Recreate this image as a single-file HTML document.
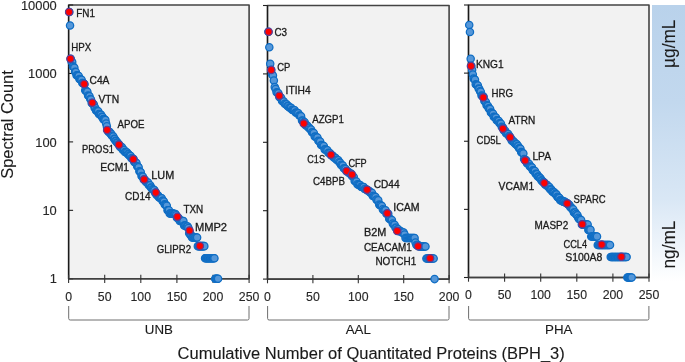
<!DOCTYPE html><html><head><meta charset="utf-8"><style>html,body{margin:0;padding:0;background:#fff;overflow:hidden}svg{display:block;will-change:transform}</style></head><body>
<svg width="685" height="362" viewBox="0 0 685 362" font-family="'Liberation Sans', sans-serif"><style>text{stroke:#1a1a1a;stroke-width:0.12;paint-order:stroke}text.l{stroke-width:0.3}</style>
<defs><linearGradient id="gb" x1="0" y1="0" x2="0" y2="1"><stop offset="0" stop-color="#b9d2eb"/><stop offset="0.35" stop-color="#c2d8ee"/><stop offset="0.7" stop-color="#d9e7f5"/><stop offset="1" stop-color="#ffffff"/></linearGradient></defs>
<rect x="652" y="5" width="33" height="277" fill="url(#gb)"/>
<text x="0" y="0" transform="translate(674.9,67.9) rotate(-90)" font-size="17.6" fill="#1a1a1a" textLength="48.4" lengthAdjust="spacingAndGlyphs">µg/mL</text>
<text x="0" y="0" transform="translate(674.9,268.4) rotate(-90)" font-size="17.6" fill="#1a1a1a" textLength="47.6" lengthAdjust="spacingAndGlyphs">ng/mL</text>
<rect x="68.6" y="5.0" width="180.50" height="273.80" fill="#f2f2f2" stroke="#444444" stroke-width="1.6" stroke-linejoin="round"/>
<line x1="68.6" y1="5.00" x2="73.1" y2="5.00" stroke="#222" stroke-width="1.1"/>
<text x="56.8" y="9.60" font-size="12.9" text-anchor="end" fill="#262626">10000</text>
<line x1="68.6" y1="73.45" x2="73.1" y2="73.45" stroke="#222" stroke-width="1.1"/>
<text x="56.8" y="78.05" font-size="12.9" text-anchor="end" fill="#262626">1000</text>
<line x1="68.6" y1="141.90" x2="73.1" y2="141.90" stroke="#222" stroke-width="1.1"/>
<text x="56.8" y="146.50" font-size="12.9" text-anchor="end" fill="#262626">100</text>
<line x1="68.6" y1="210.35" x2="73.1" y2="210.35" stroke="#222" stroke-width="1.1"/>
<text x="56.8" y="214.95" font-size="12.9" text-anchor="end" fill="#262626">10</text>
<line x1="68.6" y1="278.80" x2="73.1" y2="278.80" stroke="#222" stroke-width="1.1"/>
<text x="56.8" y="283.40" font-size="12.9" text-anchor="end" fill="#262626">1</text>
<line x1="68.6" y1="5.0" x2="68.6" y2="278.8" stroke="#1a1a1a" stroke-width="1.2"/>
<line x1="68.6" y1="278.8" x2="249.1" y2="278.8" stroke="#404040" stroke-width="1.3"/>
<line x1="68.60" y1="274.8" x2="68.60" y2="283.0" stroke="#333" stroke-width="1.1"/>
<text x="68.60" y="300.50" font-size="12.3" text-anchor="middle" fill="#262626">0</text>
<line x1="104.70" y1="274.8" x2="104.70" y2="283.0" stroke="#333" stroke-width="1.1"/>
<text x="104.70" y="300.50" font-size="12.3" text-anchor="middle" fill="#262626">50</text>
<line x1="140.80" y1="274.8" x2="140.80" y2="283.0" stroke="#333" stroke-width="1.1"/>
<text x="140.80" y="300.50" font-size="12.3" text-anchor="middle" fill="#262626">100</text>
<line x1="176.90" y1="274.8" x2="176.90" y2="283.0" stroke="#333" stroke-width="1.1"/>
<text x="176.90" y="300.50" font-size="12.3" text-anchor="middle" fill="#262626">150</text>
<line x1="213.00" y1="274.8" x2="213.00" y2="283.0" stroke="#333" stroke-width="1.1"/>
<text x="213.00" y="300.50" font-size="12.3" text-anchor="middle" fill="#262626">200</text>
<line x1="249.10" y1="274.8" x2="249.10" y2="283.0" stroke="#333" stroke-width="1.1"/>
<text x="249.10" y="300.50" font-size="12.3" text-anchor="middle" fill="#262626">250</text>
<path d="M68.69999999999999,306 L68.69999999999999,318.5 Q68.69999999999999,320 70.19999999999999,320 L247.5,320 Q249.0,320 249.0,318.5 L249.0,306" fill="none" stroke="#6e6e6e" stroke-width="1"/>
<text x="158.85" y="333.6" font-size="13.3" text-anchor="middle" fill="#1a1a1a">UNB</text>
<circle cx="69.32" cy="12.00" r="3.65" fill="#5597d9" stroke="#0f6dc4" stroke-width="1.25"/>
<circle cx="70.04" cy="25.50" r="3.65" fill="#5597d9" stroke="#0f6dc4" stroke-width="1.25"/>
<circle cx="70.77" cy="58.80" r="3.65" fill="#5597d9" stroke="#0f6dc4" stroke-width="1.25"/>
<circle cx="71.49" cy="61.49" r="3.65" fill="#5597d9" stroke="#0f6dc4" stroke-width="1.25"/>
<circle cx="72.21" cy="62.05" r="3.65" fill="#5597d9" stroke="#0f6dc4" stroke-width="1.25"/>
<circle cx="72.93" cy="66.29" r="3.65" fill="#5597d9" stroke="#0f6dc4" stroke-width="1.25"/>
<circle cx="73.65" cy="67.02" r="3.65" fill="#5597d9" stroke="#0f6dc4" stroke-width="1.25"/>
<circle cx="74.38" cy="67.79" r="3.65" fill="#5597d9" stroke="#0f6dc4" stroke-width="1.25"/>
<circle cx="75.10" cy="71.70" r="3.65" fill="#5597d9" stroke="#0f6dc4" stroke-width="1.25"/>
<circle cx="75.82" cy="72.13" r="3.65" fill="#5597d9" stroke="#0f6dc4" stroke-width="1.25"/>
<circle cx="76.54" cy="75.20" r="3.65" fill="#5597d9" stroke="#0f6dc4" stroke-width="1.25"/>
<circle cx="77.26" cy="75.57" r="3.65" fill="#5597d9" stroke="#0f6dc4" stroke-width="1.25"/>
<circle cx="77.99" cy="75.83" r="3.65" fill="#5597d9" stroke="#0f6dc4" stroke-width="1.25"/>
<circle cx="78.71" cy="76.10" r="3.65" fill="#5597d9" stroke="#0f6dc4" stroke-width="1.25"/>
<circle cx="79.43" cy="78.90" r="3.65" fill="#5597d9" stroke="#0f6dc4" stroke-width="1.25"/>
<circle cx="80.15" cy="79.17" r="3.65" fill="#5597d9" stroke="#0f6dc4" stroke-width="1.25"/>
<circle cx="80.87" cy="79.43" r="3.65" fill="#5597d9" stroke="#0f6dc4" stroke-width="1.25"/>
<circle cx="81.60" cy="79.72" r="3.65" fill="#5597d9" stroke="#0f6dc4" stroke-width="1.25"/>
<circle cx="82.32" cy="82.93" r="3.65" fill="#5597d9" stroke="#0f6dc4" stroke-width="1.25"/>
<circle cx="83.04" cy="83.23" r="3.65" fill="#5597d9" stroke="#0f6dc4" stroke-width="1.25"/>
<circle cx="83.76" cy="83.52" r="3.65" fill="#5597d9" stroke="#0f6dc4" stroke-width="1.25"/>
<circle cx="84.48" cy="84.17" r="3.65" fill="#5597d9" stroke="#0f6dc4" stroke-width="1.25"/>
<circle cx="85.21" cy="90.32" r="3.65" fill="#5597d9" stroke="#0f6dc4" stroke-width="1.25"/>
<circle cx="85.93" cy="90.94" r="3.65" fill="#5597d9" stroke="#0f6dc4" stroke-width="1.25"/>
<circle cx="86.65" cy="91.35" r="3.65" fill="#5597d9" stroke="#0f6dc4" stroke-width="1.25"/>
<circle cx="87.37" cy="91.75" r="3.65" fill="#5597d9" stroke="#0f6dc4" stroke-width="1.25"/>
<circle cx="88.09" cy="95.55" r="3.65" fill="#5597d9" stroke="#0f6dc4" stroke-width="1.25"/>
<circle cx="88.82" cy="95.96" r="3.65" fill="#5597d9" stroke="#0f6dc4" stroke-width="1.25"/>
<circle cx="89.54" cy="96.36" r="3.65" fill="#5597d9" stroke="#0f6dc4" stroke-width="1.25"/>
<circle cx="90.26" cy="99.10" r="3.65" fill="#5597d9" stroke="#0f6dc4" stroke-width="1.25"/>
<circle cx="90.98" cy="99.50" r="3.65" fill="#5597d9" stroke="#0f6dc4" stroke-width="1.25"/>
<circle cx="91.70" cy="103.04" r="3.65" fill="#5597d9" stroke="#0f6dc4" stroke-width="1.25"/>
<circle cx="92.43" cy="103.47" r="3.65" fill="#5597d9" stroke="#0f6dc4" stroke-width="1.25"/>
<circle cx="93.15" cy="104.09" r="3.65" fill="#5597d9" stroke="#0f6dc4" stroke-width="1.25"/>
<circle cx="93.87" cy="104.46" r="3.65" fill="#5597d9" stroke="#0f6dc4" stroke-width="1.25"/>
<circle cx="94.59" cy="107.65" r="3.65" fill="#5597d9" stroke="#0f6dc4" stroke-width="1.25"/>
<circle cx="95.31" cy="108.00" r="3.65" fill="#5597d9" stroke="#0f6dc4" stroke-width="1.25"/>
<circle cx="96.04" cy="110.52" r="3.65" fill="#5597d9" stroke="#0f6dc4" stroke-width="1.25"/>
<circle cx="96.76" cy="110.81" r="3.65" fill="#5597d9" stroke="#0f6dc4" stroke-width="1.25"/>
<circle cx="97.48" cy="111.06" r="3.65" fill="#5597d9" stroke="#0f6dc4" stroke-width="1.25"/>
<circle cx="98.20" cy="111.31" r="3.65" fill="#5597d9" stroke="#0f6dc4" stroke-width="1.25"/>
<circle cx="98.92" cy="113.93" r="3.65" fill="#5597d9" stroke="#0f6dc4" stroke-width="1.25"/>
<circle cx="99.65" cy="114.18" r="3.65" fill="#5597d9" stroke="#0f6dc4" stroke-width="1.25"/>
<circle cx="100.37" cy="114.44" r="3.65" fill="#5597d9" stroke="#0f6dc4" stroke-width="1.25"/>
<circle cx="101.09" cy="114.69" r="3.65" fill="#5597d9" stroke="#0f6dc4" stroke-width="1.25"/>
<circle cx="101.81" cy="116.70" r="3.65" fill="#5597d9" stroke="#0f6dc4" stroke-width="1.25"/>
<circle cx="102.53" cy="116.95" r="3.65" fill="#5597d9" stroke="#0f6dc4" stroke-width="1.25"/>
<circle cx="103.26" cy="119.12" r="3.65" fill="#5597d9" stroke="#0f6dc4" stroke-width="1.25"/>
<circle cx="103.98" cy="119.37" r="3.65" fill="#5597d9" stroke="#0f6dc4" stroke-width="1.25"/>
<circle cx="104.70" cy="119.62" r="3.65" fill="#5597d9" stroke="#0f6dc4" stroke-width="1.25"/>
<circle cx="105.42" cy="120.13" r="3.65" fill="#5597d9" stroke="#0f6dc4" stroke-width="1.25"/>
<circle cx="106.14" cy="123.46" r="3.65" fill="#5597d9" stroke="#0f6dc4" stroke-width="1.25"/>
<circle cx="106.87" cy="126.38" r="3.65" fill="#5597d9" stroke="#0f6dc4" stroke-width="1.25"/>
<circle cx="107.59" cy="130.31" r="3.65" fill="#5597d9" stroke="#0f6dc4" stroke-width="1.25"/>
<circle cx="108.31" cy="131.61" r="3.65" fill="#5597d9" stroke="#0f6dc4" stroke-width="1.25"/>
<circle cx="109.03" cy="131.84" r="3.65" fill="#5597d9" stroke="#0f6dc4" stroke-width="1.25"/>
<circle cx="109.75" cy="132.07" r="3.65" fill="#5597d9" stroke="#0f6dc4" stroke-width="1.25"/>
<circle cx="110.48" cy="133.65" r="3.65" fill="#5597d9" stroke="#0f6dc4" stroke-width="1.25"/>
<circle cx="111.20" cy="133.88" r="3.65" fill="#5597d9" stroke="#0f6dc4" stroke-width="1.25"/>
<circle cx="111.92" cy="135.71" r="3.65" fill="#5597d9" stroke="#0f6dc4" stroke-width="1.25"/>
<circle cx="112.64" cy="136.05" r="3.65" fill="#5597d9" stroke="#0f6dc4" stroke-width="1.25"/>
<circle cx="113.36" cy="136.40" r="3.65" fill="#5597d9" stroke="#0f6dc4" stroke-width="1.25"/>
<circle cx="114.09" cy="138.77" r="3.65" fill="#5597d9" stroke="#0f6dc4" stroke-width="1.25"/>
<circle cx="114.81" cy="139.12" r="3.65" fill="#5597d9" stroke="#0f6dc4" stroke-width="1.25"/>
<circle cx="115.53" cy="140.82" r="3.65" fill="#5597d9" stroke="#0f6dc4" stroke-width="1.25"/>
<circle cx="116.25" cy="141.08" r="3.65" fill="#5597d9" stroke="#0f6dc4" stroke-width="1.25"/>
<circle cx="116.97" cy="142.56" r="3.65" fill="#5597d9" stroke="#0f6dc4" stroke-width="1.25"/>
<circle cx="117.70" cy="142.82" r="3.65" fill="#5597d9" stroke="#0f6dc4" stroke-width="1.25"/>
<circle cx="118.42" cy="144.30" r="3.65" fill="#5597d9" stroke="#0f6dc4" stroke-width="1.25"/>
<circle cx="119.14" cy="144.56" r="3.65" fill="#5597d9" stroke="#0f6dc4" stroke-width="1.25"/>
<circle cx="119.86" cy="146.61" r="3.65" fill="#5597d9" stroke="#0f6dc4" stroke-width="1.25"/>
<circle cx="120.58" cy="146.86" r="3.65" fill="#5597d9" stroke="#0f6dc4" stroke-width="1.25"/>
<circle cx="121.31" cy="147.12" r="3.65" fill="#5597d9" stroke="#0f6dc4" stroke-width="1.25"/>
<circle cx="122.03" cy="147.37" r="3.65" fill="#5597d9" stroke="#0f6dc4" stroke-width="1.25"/>
<circle cx="122.75" cy="149.66" r="3.65" fill="#5597d9" stroke="#0f6dc4" stroke-width="1.25"/>
<circle cx="123.47" cy="149.92" r="3.65" fill="#5597d9" stroke="#0f6dc4" stroke-width="1.25"/>
<circle cx="124.19" cy="150.11" r="3.65" fill="#5597d9" stroke="#0f6dc4" stroke-width="1.25"/>
<circle cx="124.92" cy="151.91" r="3.65" fill="#5597d9" stroke="#0f6dc4" stroke-width="1.25"/>
<circle cx="125.64" cy="152.10" r="3.65" fill="#5597d9" stroke="#0f6dc4" stroke-width="1.25"/>
<circle cx="126.36" cy="152.29" r="3.65" fill="#5597d9" stroke="#0f6dc4" stroke-width="1.25"/>
<circle cx="127.08" cy="152.48" r="3.65" fill="#5597d9" stroke="#0f6dc4" stroke-width="1.25"/>
<circle cx="127.80" cy="154.00" r="3.65" fill="#5597d9" stroke="#0f6dc4" stroke-width="1.25"/>
<circle cx="128.53" cy="154.19" r="3.65" fill="#5597d9" stroke="#0f6dc4" stroke-width="1.25"/>
<circle cx="129.25" cy="155.59" r="3.65" fill="#5597d9" stroke="#0f6dc4" stroke-width="1.25"/>
<circle cx="129.97" cy="155.83" r="3.65" fill="#5597d9" stroke="#0f6dc4" stroke-width="1.25"/>
<circle cx="130.69" cy="156.06" r="3.65" fill="#5597d9" stroke="#0f6dc4" stroke-width="1.25"/>
<circle cx="131.41" cy="158.22" r="3.65" fill="#5597d9" stroke="#0f6dc4" stroke-width="1.25"/>
<circle cx="132.14" cy="158.45" r="3.65" fill="#5597d9" stroke="#0f6dc4" stroke-width="1.25"/>
<circle cx="132.86" cy="158.69" r="3.65" fill="#5597d9" stroke="#0f6dc4" stroke-width="1.25"/>
<circle cx="133.58" cy="158.96" r="3.65" fill="#5597d9" stroke="#0f6dc4" stroke-width="1.25"/>
<circle cx="134.30" cy="162.02" r="3.65" fill="#5597d9" stroke="#0f6dc4" stroke-width="1.25"/>
<circle cx="135.02" cy="162.34" r="3.65" fill="#5597d9" stroke="#0f6dc4" stroke-width="1.25"/>
<circle cx="135.75" cy="162.65" r="3.65" fill="#5597d9" stroke="#0f6dc4" stroke-width="1.25"/>
<circle cx="136.47" cy="162.97" r="3.65" fill="#5597d9" stroke="#0f6dc4" stroke-width="1.25"/>
<circle cx="137.19" cy="166.29" r="3.65" fill="#5597d9" stroke="#0f6dc4" stroke-width="1.25"/>
<circle cx="137.91" cy="166.77" r="3.65" fill="#5597d9" stroke="#0f6dc4" stroke-width="1.25"/>
<circle cx="138.63" cy="167.24" r="3.65" fill="#5597d9" stroke="#0f6dc4" stroke-width="1.25"/>
<circle cx="139.36" cy="171.22" r="3.65" fill="#5597d9" stroke="#0f6dc4" stroke-width="1.25"/>
<circle cx="140.08" cy="171.79" r="3.65" fill="#5597d9" stroke="#0f6dc4" stroke-width="1.25"/>
<circle cx="140.80" cy="172.36" r="3.65" fill="#5597d9" stroke="#0f6dc4" stroke-width="1.25"/>
<circle cx="141.52" cy="176.10" r="3.65" fill="#5597d9" stroke="#0f6dc4" stroke-width="1.25"/>
<circle cx="142.24" cy="176.43" r="3.65" fill="#5597d9" stroke="#0f6dc4" stroke-width="1.25"/>
<circle cx="142.97" cy="176.76" r="3.65" fill="#5597d9" stroke="#0f6dc4" stroke-width="1.25"/>
<circle cx="143.69" cy="179.44" r="3.65" fill="#5597d9" stroke="#0f6dc4" stroke-width="1.25"/>
<circle cx="144.41" cy="179.75" r="3.65" fill="#5597d9" stroke="#0f6dc4" stroke-width="1.25"/>
<circle cx="145.13" cy="180.08" r="3.65" fill="#5597d9" stroke="#0f6dc4" stroke-width="1.25"/>
<circle cx="145.85" cy="181.82" r="3.65" fill="#5597d9" stroke="#0f6dc4" stroke-width="1.25"/>
<circle cx="146.58" cy="182.16" r="3.65" fill="#5597d9" stroke="#0f6dc4" stroke-width="1.25"/>
<circle cx="147.30" cy="182.51" r="3.65" fill="#5597d9" stroke="#0f6dc4" stroke-width="1.25"/>
<circle cx="148.02" cy="182.51" r="3.65" fill="#5597d9" stroke="#0f6dc4" stroke-width="1.25"/>
<circle cx="148.74" cy="184.91" r="3.65" fill="#5597d9" stroke="#0f6dc4" stroke-width="1.25"/>
<circle cx="149.46" cy="185.29" r="3.65" fill="#5597d9" stroke="#0f6dc4" stroke-width="1.25"/>
<circle cx="150.19" cy="185.29" r="3.65" fill="#5597d9" stroke="#0f6dc4" stroke-width="1.25"/>
<circle cx="150.91" cy="187.40" r="3.65" fill="#5597d9" stroke="#0f6dc4" stroke-width="1.25"/>
<circle cx="151.63" cy="187.81" r="3.65" fill="#5597d9" stroke="#0f6dc4" stroke-width="1.25"/>
<circle cx="152.35" cy="189.32" r="3.65" fill="#5597d9" stroke="#0f6dc4" stroke-width="1.25"/>
<circle cx="153.07" cy="189.76" r="3.65" fill="#5597d9" stroke="#0f6dc4" stroke-width="1.25"/>
<circle cx="153.80" cy="189.76" r="3.65" fill="#5597d9" stroke="#0f6dc4" stroke-width="1.25"/>
<circle cx="154.52" cy="190.21" r="3.65" fill="#5597d9" stroke="#0f6dc4" stroke-width="1.25"/>
<circle cx="155.24" cy="192.88" r="3.65" fill="#5597d9" stroke="#0f6dc4" stroke-width="1.25"/>
<circle cx="155.96" cy="192.88" r="3.65" fill="#5597d9" stroke="#0f6dc4" stroke-width="1.25"/>
<circle cx="156.68" cy="195.00" r="3.65" fill="#5597d9" stroke="#0f6dc4" stroke-width="1.25"/>
<circle cx="157.41" cy="195.00" r="3.65" fill="#5597d9" stroke="#0f6dc4" stroke-width="1.25"/>
<circle cx="158.13" cy="195.54" r="3.65" fill="#5597d9" stroke="#0f6dc4" stroke-width="1.25"/>
<circle cx="158.85" cy="197.27" r="3.65" fill="#5597d9" stroke="#0f6dc4" stroke-width="1.25"/>
<circle cx="159.57" cy="197.85" r="3.65" fill="#5597d9" stroke="#0f6dc4" stroke-width="1.25"/>
<circle cx="160.29" cy="197.85" r="3.65" fill="#5597d9" stroke="#0f6dc4" stroke-width="1.25"/>
<circle cx="161.02" cy="198.30" r="3.65" fill="#5597d9" stroke="#0f6dc4" stroke-width="1.25"/>
<circle cx="161.74" cy="198.30" r="3.65" fill="#5597d9" stroke="#0f6dc4" stroke-width="1.25"/>
<circle cx="162.46" cy="200.86" r="3.65" fill="#5597d9" stroke="#0f6dc4" stroke-width="1.25"/>
<circle cx="163.18" cy="200.86" r="3.65" fill="#5597d9" stroke="#0f6dc4" stroke-width="1.25"/>
<circle cx="163.90" cy="201.52" r="3.65" fill="#5597d9" stroke="#0f6dc4" stroke-width="1.25"/>
<circle cx="164.63" cy="204.25" r="3.65" fill="#5597d9" stroke="#0f6dc4" stroke-width="1.25"/>
<circle cx="165.35" cy="204.97" r="3.65" fill="#5597d9" stroke="#0f6dc4" stroke-width="1.25"/>
<circle cx="166.07" cy="204.97" r="3.65" fill="#5597d9" stroke="#0f6dc4" stroke-width="1.25"/>
<circle cx="166.79" cy="205.74" r="3.65" fill="#5597d9" stroke="#0f6dc4" stroke-width="1.25"/>
<circle cx="167.51" cy="210.35" r="3.65" fill="#5597d9" stroke="#0f6dc4" stroke-width="1.25"/>
<circle cx="168.24" cy="210.35" r="3.65" fill="#5597d9" stroke="#0f6dc4" stroke-width="1.25"/>
<circle cx="168.96" cy="210.35" r="3.65" fill="#5597d9" stroke="#0f6dc4" stroke-width="1.25"/>
<circle cx="169.68" cy="213.48" r="3.65" fill="#5597d9" stroke="#0f6dc4" stroke-width="1.25"/>
<circle cx="170.40" cy="213.48" r="3.65" fill="#5597d9" stroke="#0f6dc4" stroke-width="1.25"/>
<circle cx="171.12" cy="213.48" r="3.65" fill="#5597d9" stroke="#0f6dc4" stroke-width="1.25"/>
<circle cx="171.85" cy="213.48" r="3.65" fill="#5597d9" stroke="#0f6dc4" stroke-width="1.25"/>
<circle cx="172.57" cy="213.48" r="3.65" fill="#5597d9" stroke="#0f6dc4" stroke-width="1.25"/>
<circle cx="173.29" cy="213.48" r="3.65" fill="#5597d9" stroke="#0f6dc4" stroke-width="1.25"/>
<circle cx="174.01" cy="214.09" r="3.65" fill="#5597d9" stroke="#0f6dc4" stroke-width="1.25"/>
<circle cx="174.73" cy="214.09" r="3.65" fill="#5597d9" stroke="#0f6dc4" stroke-width="1.25"/>
<circle cx="175.46" cy="214.09" r="3.65" fill="#5597d9" stroke="#0f6dc4" stroke-width="1.25"/>
<circle cx="176.18" cy="215.15" r="3.65" fill="#5597d9" stroke="#0f6dc4" stroke-width="1.25"/>
<circle cx="176.90" cy="217.68" r="3.65" fill="#5597d9" stroke="#0f6dc4" stroke-width="1.25"/>
<circle cx="177.62" cy="217.68" r="3.65" fill="#5597d9" stroke="#0f6dc4" stroke-width="1.25"/>
<circle cx="178.34" cy="217.68" r="3.65" fill="#5597d9" stroke="#0f6dc4" stroke-width="1.25"/>
<circle cx="179.07" cy="218.87" r="3.65" fill="#5597d9" stroke="#0f6dc4" stroke-width="1.25"/>
<circle cx="179.79" cy="220.95" r="3.65" fill="#5597d9" stroke="#0f6dc4" stroke-width="1.25"/>
<circle cx="180.51" cy="220.95" r="3.65" fill="#5597d9" stroke="#0f6dc4" stroke-width="1.25"/>
<circle cx="181.23" cy="220.95" r="3.65" fill="#5597d9" stroke="#0f6dc4" stroke-width="1.25"/>
<circle cx="181.95" cy="220.95" r="3.65" fill="#5597d9" stroke="#0f6dc4" stroke-width="1.25"/>
<circle cx="182.68" cy="220.95" r="3.65" fill="#5597d9" stroke="#0f6dc4" stroke-width="1.25"/>
<circle cx="183.40" cy="220.95" r="3.65" fill="#5597d9" stroke="#0f6dc4" stroke-width="1.25"/>
<circle cx="184.12" cy="225.54" r="3.65" fill="#5597d9" stroke="#0f6dc4" stroke-width="1.25"/>
<circle cx="184.84" cy="225.54" r="3.65" fill="#5597d9" stroke="#0f6dc4" stroke-width="1.25"/>
<circle cx="185.56" cy="225.54" r="3.65" fill="#5597d9" stroke="#0f6dc4" stroke-width="1.25"/>
<circle cx="186.29" cy="226.48" r="3.65" fill="#5597d9" stroke="#0f6dc4" stroke-width="1.25"/>
<circle cx="187.01" cy="226.48" r="3.65" fill="#5597d9" stroke="#0f6dc4" stroke-width="1.25"/>
<circle cx="187.73" cy="226.48" r="3.65" fill="#5597d9" stroke="#0f6dc4" stroke-width="1.25"/>
<circle cx="188.45" cy="228.11" r="3.65" fill="#5597d9" stroke="#0f6dc4" stroke-width="1.25"/>
<circle cx="189.17" cy="233.28" r="3.65" fill="#5597d9" stroke="#0f6dc4" stroke-width="1.25"/>
<circle cx="189.90" cy="233.28" r="3.65" fill="#5597d9" stroke="#0f6dc4" stroke-width="1.25"/>
<circle cx="190.62" cy="235.27" r="3.65" fill="#5597d9" stroke="#0f6dc4" stroke-width="1.25"/>
<circle cx="191.34" cy="235.27" r="3.65" fill="#5597d9" stroke="#0f6dc4" stroke-width="1.25"/>
<circle cx="192.06" cy="237.59" r="3.65" fill="#5597d9" stroke="#0f6dc4" stroke-width="1.25"/>
<circle cx="192.78" cy="237.59" r="3.65" fill="#5597d9" stroke="#0f6dc4" stroke-width="1.25"/>
<circle cx="193.51" cy="237.59" r="3.65" fill="#5597d9" stroke="#0f6dc4" stroke-width="1.25"/>
<circle cx="194.23" cy="237.59" r="3.65" fill="#5597d9" stroke="#0f6dc4" stroke-width="1.25"/>
<circle cx="194.95" cy="237.59" r="3.65" fill="#5597d9" stroke="#0f6dc4" stroke-width="1.25"/>
<circle cx="195.67" cy="237.59" r="3.65" fill="#5597d9" stroke="#0f6dc4" stroke-width="1.25"/>
<circle cx="196.39" cy="237.59" r="3.65" fill="#5597d9" stroke="#0f6dc4" stroke-width="1.25"/>
<circle cx="197.12" cy="237.59" r="3.65" fill="#5597d9" stroke="#0f6dc4" stroke-width="1.25"/>
<circle cx="197.84" cy="246.14" r="3.65" fill="#5597d9" stroke="#0f6dc4" stroke-width="1.25"/>
<circle cx="198.56" cy="246.14" r="3.65" fill="#5597d9" stroke="#0f6dc4" stroke-width="1.25"/>
<circle cx="199.28" cy="246.14" r="3.65" fill="#5597d9" stroke="#0f6dc4" stroke-width="1.25"/>
<circle cx="200.00" cy="246.14" r="3.65" fill="#5597d9" stroke="#0f6dc4" stroke-width="1.25"/>
<circle cx="200.73" cy="246.14" r="3.65" fill="#5597d9" stroke="#0f6dc4" stroke-width="1.25"/>
<circle cx="201.45" cy="246.14" r="3.65" fill="#5597d9" stroke="#0f6dc4" stroke-width="1.25"/>
<circle cx="202.17" cy="246.14" r="3.65" fill="#5597d9" stroke="#0f6dc4" stroke-width="1.25"/>
<circle cx="202.89" cy="246.14" r="3.65" fill="#5597d9" stroke="#0f6dc4" stroke-width="1.25"/>
<circle cx="203.61" cy="246.14" r="3.65" fill="#5597d9" stroke="#0f6dc4" stroke-width="1.25"/>
<circle cx="204.34" cy="246.14" r="3.65" fill="#5597d9" stroke="#0f6dc4" stroke-width="1.25"/>
<circle cx="205.06" cy="258.19" r="3.65" fill="#5597d9" stroke="#0f6dc4" stroke-width="1.25"/>
<circle cx="205.78" cy="258.19" r="3.65" fill="#5597d9" stroke="#0f6dc4" stroke-width="1.25"/>
<circle cx="206.50" cy="258.19" r="3.65" fill="#5597d9" stroke="#0f6dc4" stroke-width="1.25"/>
<circle cx="207.22" cy="258.19" r="3.65" fill="#5597d9" stroke="#0f6dc4" stroke-width="1.25"/>
<circle cx="207.95" cy="258.19" r="3.65" fill="#5597d9" stroke="#0f6dc4" stroke-width="1.25"/>
<circle cx="208.67" cy="258.19" r="3.65" fill="#5597d9" stroke="#0f6dc4" stroke-width="1.25"/>
<circle cx="209.39" cy="258.19" r="3.65" fill="#5597d9" stroke="#0f6dc4" stroke-width="1.25"/>
<circle cx="210.11" cy="258.19" r="3.65" fill="#5597d9" stroke="#0f6dc4" stroke-width="1.25"/>
<circle cx="210.83" cy="258.19" r="3.65" fill="#5597d9" stroke="#0f6dc4" stroke-width="1.25"/>
<circle cx="211.56" cy="258.19" r="3.65" fill="#5597d9" stroke="#0f6dc4" stroke-width="1.25"/>
<circle cx="212.28" cy="258.19" r="3.65" fill="#5597d9" stroke="#0f6dc4" stroke-width="1.25"/>
<circle cx="213.00" cy="258.19" r="3.65" fill="#5597d9" stroke="#0f6dc4" stroke-width="1.25"/>
<circle cx="213.72" cy="258.19" r="3.65" fill="#5597d9" stroke="#0f6dc4" stroke-width="1.25"/>
<circle cx="214.44" cy="258.19" r="3.65" fill="#5597d9" stroke="#0f6dc4" stroke-width="1.25"/>
<circle cx="215.17" cy="278.80" r="3.65" fill="#5597d9" stroke="#0f6dc4" stroke-width="1.25"/>
<circle cx="215.89" cy="278.80" r="3.65" fill="#5597d9" stroke="#0f6dc4" stroke-width="1.25"/>
<circle cx="216.61" cy="278.80" r="3.65" fill="#5597d9" stroke="#0f6dc4" stroke-width="1.25"/>
<circle cx="217.33" cy="278.80" r="3.65" fill="#5597d9" stroke="#0f6dc4" stroke-width="1.25"/>
<circle cx="218.05" cy="278.80" r="3.65" fill="#5597d9" stroke="#0f6dc4" stroke-width="1.25"/>
<circle cx="69.10" cy="12.00" r="3.65" fill="#ff0000" stroke="#5e3d92" stroke-width="1.25"/>
<circle cx="70.40" cy="58.80" r="3.65" fill="#ff0000" stroke="#5e3d92" stroke-width="1.25"/>
<circle cx="84.20" cy="84.00" r="3.65" fill="#ff0000" stroke="#5e3d92" stroke-width="1.25"/>
<circle cx="92.40" cy="102.70" r="3.65" fill="#ff0000" stroke="#5e3d92" stroke-width="1.25"/>
<circle cx="107.10" cy="130.00" r="3.65" fill="#ff0000" stroke="#5e3d92" stroke-width="1.25"/>
<circle cx="119.00" cy="144.70" r="3.65" fill="#ff0000" stroke="#5e3d92" stroke-width="1.25"/>
<circle cx="133.30" cy="159.30" r="3.65" fill="#ff0000" stroke="#5e3d92" stroke-width="1.25"/>
<circle cx="144.10" cy="179.40" r="3.65" fill="#ff0000" stroke="#5e3d92" stroke-width="1.25"/>
<circle cx="155.80" cy="192.60" r="3.65" fill="#ff0000" stroke="#5e3d92" stroke-width="1.25"/>
<circle cx="177.40" cy="216.80" r="3.65" fill="#ff0000" stroke="#5e3d92" stroke-width="1.25"/>
<circle cx="189.60" cy="230.40" r="3.65" fill="#ff0000" stroke="#5e3d92" stroke-width="1.25"/>
<circle cx="199.90" cy="245.90" r="3.65" fill="#ff0000" stroke="#5e3d92" stroke-width="1.25"/>
<text class="l" x="76.3" y="16.8" font-size="10.4" fill="#1a1a1a" textLength="18.7" lengthAdjust="spacingAndGlyphs">FN1</text>
<text class="l" x="71.2" y="50.6" font-size="10.4" fill="#1a1a1a" textLength="20.0" lengthAdjust="spacingAndGlyphs">HPX</text>
<text class="l" x="89.5" y="84.3" font-size="10.4" fill="#1a1a1a" textLength="19.9" lengthAdjust="spacingAndGlyphs">C4A</text>
<text class="l" x="98.5" y="102.5" font-size="10.4" fill="#1a1a1a" textLength="20.6" lengthAdjust="spacingAndGlyphs">VTN</text>
<text class="l" x="117.5" y="127.6" font-size="10.4" fill="#1a1a1a" textLength="26.9" lengthAdjust="spacingAndGlyphs">APOE</text>
<text class="l" x="82.0" y="152.6" font-size="10.4" fill="#1a1a1a" textLength="31.9" lengthAdjust="spacingAndGlyphs">PROS1</text>
<text class="l" x="100.3" y="170.8" font-size="10.4" fill="#1a1a1a" textLength="28.8" lengthAdjust="spacingAndGlyphs">ECM1</text>
<text class="l" x="151.3" y="178.8" font-size="10.4" fill="#1a1a1a" textLength="22.9" lengthAdjust="spacingAndGlyphs">LUM</text>
<text class="l" x="125.0" y="200.1" font-size="10.4" fill="#1a1a1a" textLength="25.5" lengthAdjust="spacingAndGlyphs">CD14</text>
<text class="l" x="183.4" y="213.3" font-size="10.4" fill="#1a1a1a" textLength="19.8" lengthAdjust="spacingAndGlyphs">TXN</text>
<text class="l" x="194.9" y="230.8" font-size="10.4" fill="#1a1a1a" textLength="32.1" lengthAdjust="spacingAndGlyphs">MMP2</text>
<text class="l" x="156.8" y="252.6" font-size="10.4" fill="#1a1a1a" textLength="34.2" lengthAdjust="spacingAndGlyphs">GLIPR2</text>
<rect x="267.5" y="5.5" width="181.60" height="273.60" fill="#f2f2f2" stroke="#444444" stroke-width="1.6" stroke-linejoin="round"/>
<line x1="263.0" y1="5.50" x2="267.5" y2="5.50" stroke="#222" stroke-width="1.1"/>
<line x1="263.0" y1="73.90" x2="267.5" y2="73.90" stroke="#222" stroke-width="1.1"/>
<line x1="263.0" y1="142.30" x2="267.5" y2="142.30" stroke="#222" stroke-width="1.1"/>
<line x1="263.0" y1="210.70" x2="267.5" y2="210.70" stroke="#222" stroke-width="1.1"/>
<line x1="263.0" y1="279.10" x2="267.5" y2="279.10" stroke="#222" stroke-width="1.1"/>
<line x1="267.5" y1="5.5" x2="267.5" y2="279.1" stroke="#1a1a1a" stroke-width="1.2"/>
<line x1="267.5" y1="279.1" x2="449.1" y2="279.1" stroke="#404040" stroke-width="1.3"/>
<line x1="267.50" y1="275.1" x2="267.50" y2="283.3" stroke="#333" stroke-width="1.1"/>
<text x="267.50" y="300.80" font-size="12.3" text-anchor="middle" fill="#262626">0</text>
<line x1="312.90" y1="275.1" x2="312.90" y2="283.3" stroke="#333" stroke-width="1.1"/>
<text x="312.90" y="300.80" font-size="12.3" text-anchor="middle" fill="#262626">50</text>
<line x1="358.30" y1="275.1" x2="358.30" y2="283.3" stroke="#333" stroke-width="1.1"/>
<text x="358.30" y="300.80" font-size="12.3" text-anchor="middle" fill="#262626">100</text>
<line x1="403.70" y1="275.1" x2="403.70" y2="283.3" stroke="#333" stroke-width="1.1"/>
<text x="403.70" y="300.80" font-size="12.3" text-anchor="middle" fill="#262626">150</text>
<line x1="449.10" y1="275.1" x2="449.10" y2="283.3" stroke="#333" stroke-width="1.1"/>
<text x="449.10" y="300.80" font-size="12.3" text-anchor="middle" fill="#262626">200</text>
<path d="M267.6,306 L267.6,318.5 Q267.6,320 269.1,320 L447.5,320 Q449.0,320 449.0,318.5 L449.0,306" fill="none" stroke="#6e6e6e" stroke-width="1"/>
<text x="358.30" y="333.6" font-size="13.3" text-anchor="middle" fill="#1a1a1a">AAL</text>
<circle cx="268.41" cy="31.80" r="3.65" fill="#5597d9" stroke="#0f6dc4" stroke-width="1.25"/>
<circle cx="269.32" cy="47.30" r="3.65" fill="#5597d9" stroke="#0f6dc4" stroke-width="1.25"/>
<circle cx="270.22" cy="63.70" r="3.65" fill="#5597d9" stroke="#0f6dc4" stroke-width="1.25"/>
<circle cx="271.13" cy="69.80" r="3.65" fill="#5597d9" stroke="#0f6dc4" stroke-width="1.25"/>
<circle cx="272.04" cy="74.27" r="3.65" fill="#5597d9" stroke="#0f6dc4" stroke-width="1.25"/>
<circle cx="272.95" cy="75.53" r="3.65" fill="#5597d9" stroke="#0f6dc4" stroke-width="1.25"/>
<circle cx="273.86" cy="80.60" r="3.65" fill="#5597d9" stroke="#0f6dc4" stroke-width="1.25"/>
<circle cx="274.76" cy="87.00" r="3.65" fill="#5597d9" stroke="#0f6dc4" stroke-width="1.25"/>
<circle cx="275.67" cy="89.00" r="3.65" fill="#5597d9" stroke="#0f6dc4" stroke-width="1.25"/>
<circle cx="276.58" cy="92.28" r="3.65" fill="#5597d9" stroke="#0f6dc4" stroke-width="1.25"/>
<circle cx="277.49" cy="92.88" r="3.65" fill="#5597d9" stroke="#0f6dc4" stroke-width="1.25"/>
<circle cx="278.40" cy="93.33" r="3.65" fill="#5597d9" stroke="#0f6dc4" stroke-width="1.25"/>
<circle cx="279.30" cy="96.95" r="3.65" fill="#5597d9" stroke="#0f6dc4" stroke-width="1.25"/>
<circle cx="280.21" cy="97.39" r="3.65" fill="#5597d9" stroke="#0f6dc4" stroke-width="1.25"/>
<circle cx="281.12" cy="97.84" r="3.65" fill="#5597d9" stroke="#0f6dc4" stroke-width="1.25"/>
<circle cx="282.03" cy="100.92" r="3.65" fill="#5597d9" stroke="#0f6dc4" stroke-width="1.25"/>
<circle cx="282.94" cy="101.21" r="3.65" fill="#5597d9" stroke="#0f6dc4" stroke-width="1.25"/>
<circle cx="283.84" cy="101.50" r="3.65" fill="#5597d9" stroke="#0f6dc4" stroke-width="1.25"/>
<circle cx="284.75" cy="103.81" r="3.65" fill="#5597d9" stroke="#0f6dc4" stroke-width="1.25"/>
<circle cx="285.66" cy="104.10" r="3.65" fill="#5597d9" stroke="#0f6dc4" stroke-width="1.25"/>
<circle cx="286.57" cy="104.38" r="3.65" fill="#5597d9" stroke="#0f6dc4" stroke-width="1.25"/>
<circle cx="287.48" cy="105.94" r="3.65" fill="#5597d9" stroke="#0f6dc4" stroke-width="1.25"/>
<circle cx="288.38" cy="106.13" r="3.65" fill="#5597d9" stroke="#0f6dc4" stroke-width="1.25"/>
<circle cx="289.29" cy="107.48" r="3.65" fill="#5597d9" stroke="#0f6dc4" stroke-width="1.25"/>
<circle cx="290.20" cy="107.68" r="3.65" fill="#5597d9" stroke="#0f6dc4" stroke-width="1.25"/>
<circle cx="291.11" cy="107.88" r="3.65" fill="#5597d9" stroke="#0f6dc4" stroke-width="1.25"/>
<circle cx="292.02" cy="109.71" r="3.65" fill="#5597d9" stroke="#0f6dc4" stroke-width="1.25"/>
<circle cx="292.92" cy="109.91" r="3.65" fill="#5597d9" stroke="#0f6dc4" stroke-width="1.25"/>
<circle cx="293.83" cy="110.11" r="3.65" fill="#5597d9" stroke="#0f6dc4" stroke-width="1.25"/>
<circle cx="294.74" cy="110.33" r="3.65" fill="#5597d9" stroke="#0f6dc4" stroke-width="1.25"/>
<circle cx="295.65" cy="112.54" r="3.65" fill="#5597d9" stroke="#0f6dc4" stroke-width="1.25"/>
<circle cx="296.56" cy="112.76" r="3.65" fill="#5597d9" stroke="#0f6dc4" stroke-width="1.25"/>
<circle cx="297.46" cy="112.97" r="3.65" fill="#5597d9" stroke="#0f6dc4" stroke-width="1.25"/>
<circle cx="298.37" cy="113.19" r="3.65" fill="#5597d9" stroke="#0f6dc4" stroke-width="1.25"/>
<circle cx="299.28" cy="115.47" r="3.65" fill="#5597d9" stroke="#0f6dc4" stroke-width="1.25"/>
<circle cx="300.19" cy="115.78" r="3.65" fill="#5597d9" stroke="#0f6dc4" stroke-width="1.25"/>
<circle cx="301.10" cy="116.18" r="3.65" fill="#5597d9" stroke="#0f6dc4" stroke-width="1.25"/>
<circle cx="302.00" cy="120.49" r="3.65" fill="#5597d9" stroke="#0f6dc4" stroke-width="1.25"/>
<circle cx="302.91" cy="120.89" r="3.65" fill="#5597d9" stroke="#0f6dc4" stroke-width="1.25"/>
<circle cx="303.82" cy="121.99" r="3.65" fill="#5597d9" stroke="#0f6dc4" stroke-width="1.25"/>
<circle cx="304.73" cy="122.19" r="3.65" fill="#5597d9" stroke="#0f6dc4" stroke-width="1.25"/>
<circle cx="305.64" cy="125.30" r="3.65" fill="#5597d9" stroke="#0f6dc4" stroke-width="1.25"/>
<circle cx="306.54" cy="125.54" r="3.65" fill="#5597d9" stroke="#0f6dc4" stroke-width="1.25"/>
<circle cx="307.45" cy="125.80" r="3.65" fill="#5597d9" stroke="#0f6dc4" stroke-width="1.25"/>
<circle cx="308.36" cy="127.57" r="3.65" fill="#5597d9" stroke="#0f6dc4" stroke-width="1.25"/>
<circle cx="309.27" cy="127.84" r="3.65" fill="#5597d9" stroke="#0f6dc4" stroke-width="1.25"/>
<circle cx="310.18" cy="129.32" r="3.65" fill="#5597d9" stroke="#0f6dc4" stroke-width="1.25"/>
<circle cx="311.08" cy="129.58" r="3.65" fill="#5597d9" stroke="#0f6dc4" stroke-width="1.25"/>
<circle cx="311.99" cy="132.16" r="3.65" fill="#5597d9" stroke="#0f6dc4" stroke-width="1.25"/>
<circle cx="312.90" cy="132.58" r="3.65" fill="#5597d9" stroke="#0f6dc4" stroke-width="1.25"/>
<circle cx="313.81" cy="132.99" r="3.65" fill="#5597d9" stroke="#0f6dc4" stroke-width="1.25"/>
<circle cx="314.72" cy="136.50" r="3.65" fill="#5597d9" stroke="#0f6dc4" stroke-width="1.25"/>
<circle cx="315.62" cy="136.85" r="3.65" fill="#5597d9" stroke="#0f6dc4" stroke-width="1.25"/>
<circle cx="316.53" cy="137.20" r="3.65" fill="#5597d9" stroke="#0f6dc4" stroke-width="1.25"/>
<circle cx="317.44" cy="137.55" r="3.65" fill="#5597d9" stroke="#0f6dc4" stroke-width="1.25"/>
<circle cx="318.35" cy="140.81" r="3.65" fill="#5597d9" stroke="#0f6dc4" stroke-width="1.25"/>
<circle cx="319.26" cy="141.19" r="3.65" fill="#5597d9" stroke="#0f6dc4" stroke-width="1.25"/>
<circle cx="320.16" cy="141.57" r="3.65" fill="#5597d9" stroke="#0f6dc4" stroke-width="1.25"/>
<circle cx="321.07" cy="144.96" r="3.65" fill="#5597d9" stroke="#0f6dc4" stroke-width="1.25"/>
<circle cx="321.98" cy="145.33" r="3.65" fill="#5597d9" stroke="#0f6dc4" stroke-width="1.25"/>
<circle cx="322.89" cy="145.67" r="3.65" fill="#5597d9" stroke="#0f6dc4" stroke-width="1.25"/>
<circle cx="323.80" cy="146.00" r="3.65" fill="#5597d9" stroke="#0f6dc4" stroke-width="1.25"/>
<circle cx="324.70" cy="149.39" r="3.65" fill="#5597d9" stroke="#0f6dc4" stroke-width="1.25"/>
<circle cx="325.61" cy="149.72" r="3.65" fill="#5597d9" stroke="#0f6dc4" stroke-width="1.25"/>
<circle cx="326.52" cy="150.02" r="3.65" fill="#5597d9" stroke="#0f6dc4" stroke-width="1.25"/>
<circle cx="327.43" cy="150.29" r="3.65" fill="#5597d9" stroke="#0f6dc4" stroke-width="1.25"/>
<circle cx="328.34" cy="152.81" r="3.65" fill="#5597d9" stroke="#0f6dc4" stroke-width="1.25"/>
<circle cx="329.24" cy="153.08" r="3.65" fill="#5597d9" stroke="#0f6dc4" stroke-width="1.25"/>
<circle cx="330.15" cy="153.35" r="3.65" fill="#5597d9" stroke="#0f6dc4" stroke-width="1.25"/>
<circle cx="331.06" cy="155.35" r="3.65" fill="#5597d9" stroke="#0f6dc4" stroke-width="1.25"/>
<circle cx="331.97" cy="155.56" r="3.65" fill="#5597d9" stroke="#0f6dc4" stroke-width="1.25"/>
<circle cx="332.88" cy="155.78" r="3.65" fill="#5597d9" stroke="#0f6dc4" stroke-width="1.25"/>
<circle cx="333.78" cy="157.49" r="3.65" fill="#5597d9" stroke="#0f6dc4" stroke-width="1.25"/>
<circle cx="334.69" cy="157.71" r="3.65" fill="#5597d9" stroke="#0f6dc4" stroke-width="1.25"/>
<circle cx="335.60" cy="157.92" r="3.65" fill="#5597d9" stroke="#0f6dc4" stroke-width="1.25"/>
<circle cx="336.51" cy="159.71" r="3.65" fill="#5597d9" stroke="#0f6dc4" stroke-width="1.25"/>
<circle cx="337.42" cy="159.92" r="3.65" fill="#5597d9" stroke="#0f6dc4" stroke-width="1.25"/>
<circle cx="338.32" cy="160.23" r="3.65" fill="#5597d9" stroke="#0f6dc4" stroke-width="1.25"/>
<circle cx="339.23" cy="162.32" r="3.65" fill="#5597d9" stroke="#0f6dc4" stroke-width="1.25"/>
<circle cx="340.14" cy="162.65" r="3.65" fill="#5597d9" stroke="#0f6dc4" stroke-width="1.25"/>
<circle cx="341.05" cy="164.88" r="3.65" fill="#5597d9" stroke="#0f6dc4" stroke-width="1.25"/>
<circle cx="341.96" cy="165.21" r="3.65" fill="#5597d9" stroke="#0f6dc4" stroke-width="1.25"/>
<circle cx="342.86" cy="165.55" r="3.65" fill="#5597d9" stroke="#0f6dc4" stroke-width="1.25"/>
<circle cx="343.77" cy="168.26" r="3.65" fill="#5597d9" stroke="#0f6dc4" stroke-width="1.25"/>
<circle cx="344.68" cy="168.60" r="3.65" fill="#5597d9" stroke="#0f6dc4" stroke-width="1.25"/>
<circle cx="345.59" cy="168.94" r="3.65" fill="#5597d9" stroke="#0f6dc4" stroke-width="1.25"/>
<circle cx="346.50" cy="171.33" r="3.65" fill="#5597d9" stroke="#0f6dc4" stroke-width="1.25"/>
<circle cx="347.40" cy="171.54" r="3.65" fill="#5597d9" stroke="#0f6dc4" stroke-width="1.25"/>
<circle cx="348.31" cy="171.72" r="3.65" fill="#5597d9" stroke="#0f6dc4" stroke-width="1.25"/>
<circle cx="349.22" cy="173.23" r="3.65" fill="#5597d9" stroke="#0f6dc4" stroke-width="1.25"/>
<circle cx="350.13" cy="173.42" r="3.65" fill="#5597d9" stroke="#0f6dc4" stroke-width="1.25"/>
<circle cx="351.04" cy="173.60" r="3.65" fill="#5597d9" stroke="#0f6dc4" stroke-width="1.25"/>
<circle cx="351.94" cy="175.89" r="3.65" fill="#5597d9" stroke="#0f6dc4" stroke-width="1.25"/>
<circle cx="352.85" cy="176.44" r="3.65" fill="#5597d9" stroke="#0f6dc4" stroke-width="1.25"/>
<circle cx="353.76" cy="176.91" r="3.65" fill="#5597d9" stroke="#0f6dc4" stroke-width="1.25"/>
<circle cx="354.67" cy="180.88" r="3.65" fill="#5597d9" stroke="#0f6dc4" stroke-width="1.25"/>
<circle cx="355.58" cy="181.20" r="3.65" fill="#5597d9" stroke="#0f6dc4" stroke-width="1.25"/>
<circle cx="356.48" cy="181.54" r="3.65" fill="#5597d9" stroke="#0f6dc4" stroke-width="1.25"/>
<circle cx="357.39" cy="184.34" r="3.65" fill="#5597d9" stroke="#0f6dc4" stroke-width="1.25"/>
<circle cx="358.30" cy="184.70" r="3.65" fill="#5597d9" stroke="#0f6dc4" stroke-width="1.25"/>
<circle cx="359.21" cy="184.70" r="3.65" fill="#5597d9" stroke="#0f6dc4" stroke-width="1.25"/>
<circle cx="360.12" cy="185.08" r="3.65" fill="#5597d9" stroke="#0f6dc4" stroke-width="1.25"/>
<circle cx="361.02" cy="186.65" r="3.65" fill="#5597d9" stroke="#0f6dc4" stroke-width="1.25"/>
<circle cx="361.93" cy="187.05" r="3.65" fill="#5597d9" stroke="#0f6dc4" stroke-width="1.25"/>
<circle cx="362.84" cy="187.05" r="3.65" fill="#5597d9" stroke="#0f6dc4" stroke-width="1.25"/>
<circle cx="363.75" cy="187.05" r="3.65" fill="#5597d9" stroke="#0f6dc4" stroke-width="1.25"/>
<circle cx="364.66" cy="189.00" r="3.65" fill="#5597d9" stroke="#0f6dc4" stroke-width="1.25"/>
<circle cx="365.56" cy="189.00" r="3.65" fill="#5597d9" stroke="#0f6dc4" stroke-width="1.25"/>
<circle cx="366.47" cy="189.43" r="3.65" fill="#5597d9" stroke="#0f6dc4" stroke-width="1.25"/>
<circle cx="367.38" cy="190.47" r="3.65" fill="#5597d9" stroke="#0f6dc4" stroke-width="1.25"/>
<circle cx="368.29" cy="190.47" r="3.65" fill="#5597d9" stroke="#0f6dc4" stroke-width="1.25"/>
<circle cx="369.20" cy="190.92" r="3.65" fill="#5597d9" stroke="#0f6dc4" stroke-width="1.25"/>
<circle cx="370.10" cy="192.38" r="3.65" fill="#5597d9" stroke="#0f6dc4" stroke-width="1.25"/>
<circle cx="371.01" cy="192.86" r="3.65" fill="#5597d9" stroke="#0f6dc4" stroke-width="1.25"/>
<circle cx="371.92" cy="192.86" r="3.65" fill="#5597d9" stroke="#0f6dc4" stroke-width="1.25"/>
<circle cx="372.83" cy="195.90" r="3.65" fill="#5597d9" stroke="#0f6dc4" stroke-width="1.25"/>
<circle cx="373.74" cy="195.90" r="3.65" fill="#5597d9" stroke="#0f6dc4" stroke-width="1.25"/>
<circle cx="374.64" cy="196.44" r="3.65" fill="#5597d9" stroke="#0f6dc4" stroke-width="1.25"/>
<circle cx="375.55" cy="197.02" r="3.65" fill="#5597d9" stroke="#0f6dc4" stroke-width="1.25"/>
<circle cx="376.46" cy="199.61" r="3.65" fill="#5597d9" stroke="#0f6dc4" stroke-width="1.25"/>
<circle cx="377.37" cy="200.23" r="3.65" fill="#5597d9" stroke="#0f6dc4" stroke-width="1.25"/>
<circle cx="378.28" cy="200.23" r="3.65" fill="#5597d9" stroke="#0f6dc4" stroke-width="1.25"/>
<circle cx="379.18" cy="204.61" r="3.65" fill="#5597d9" stroke="#0f6dc4" stroke-width="1.25"/>
<circle cx="380.09" cy="205.32" r="3.65" fill="#5597d9" stroke="#0f6dc4" stroke-width="1.25"/>
<circle cx="381.00" cy="205.32" r="3.65" fill="#5597d9" stroke="#0f6dc4" stroke-width="1.25"/>
<circle cx="381.91" cy="206.10" r="3.65" fill="#5597d9" stroke="#0f6dc4" stroke-width="1.25"/>
<circle cx="382.82" cy="209.36" r="3.65" fill="#5597d9" stroke="#0f6dc4" stroke-width="1.25"/>
<circle cx="383.72" cy="210.20" r="3.65" fill="#5597d9" stroke="#0f6dc4" stroke-width="1.25"/>
<circle cx="384.63" cy="210.20" r="3.65" fill="#5597d9" stroke="#0f6dc4" stroke-width="1.25"/>
<circle cx="385.54" cy="210.20" r="3.65" fill="#5597d9" stroke="#0f6dc4" stroke-width="1.25"/>
<circle cx="386.45" cy="213.83" r="3.65" fill="#5597d9" stroke="#0f6dc4" stroke-width="1.25"/>
<circle cx="387.36" cy="213.83" r="3.65" fill="#5597d9" stroke="#0f6dc4" stroke-width="1.25"/>
<circle cx="388.26" cy="213.83" r="3.65" fill="#5597d9" stroke="#0f6dc4" stroke-width="1.25"/>
<circle cx="389.17" cy="218.72" r="3.65" fill="#5597d9" stroke="#0f6dc4" stroke-width="1.25"/>
<circle cx="390.08" cy="218.72" r="3.65" fill="#5597d9" stroke="#0f6dc4" stroke-width="1.25"/>
<circle cx="390.99" cy="219.91" r="3.65" fill="#5597d9" stroke="#0f6dc4" stroke-width="1.25"/>
<circle cx="391.90" cy="219.91" r="3.65" fill="#5597d9" stroke="#0f6dc4" stroke-width="1.25"/>
<circle cx="392.80" cy="223.43" r="3.65" fill="#5597d9" stroke="#0f6dc4" stroke-width="1.25"/>
<circle cx="393.71" cy="224.81" r="3.65" fill="#5597d9" stroke="#0f6dc4" stroke-width="1.25"/>
<circle cx="394.62" cy="224.81" r="3.65" fill="#5597d9" stroke="#0f6dc4" stroke-width="1.25"/>
<circle cx="395.53" cy="227.77" r="3.65" fill="#5597d9" stroke="#0f6dc4" stroke-width="1.25"/>
<circle cx="396.44" cy="227.77" r="3.65" fill="#5597d9" stroke="#0f6dc4" stroke-width="1.25"/>
<circle cx="397.34" cy="229.39" r="3.65" fill="#5597d9" stroke="#0f6dc4" stroke-width="1.25"/>
<circle cx="398.25" cy="229.39" r="3.65" fill="#5597d9" stroke="#0f6dc4" stroke-width="1.25"/>
<circle cx="399.16" cy="231.29" r="3.65" fill="#5597d9" stroke="#0f6dc4" stroke-width="1.25"/>
<circle cx="400.07" cy="231.29" r="3.65" fill="#5597d9" stroke="#0f6dc4" stroke-width="1.25"/>
<circle cx="400.98" cy="231.29" r="3.65" fill="#5597d9" stroke="#0f6dc4" stroke-width="1.25"/>
<circle cx="401.88" cy="232.45" r="3.65" fill="#5597d9" stroke="#0f6dc4" stroke-width="1.25"/>
<circle cx="402.79" cy="232.45" r="3.65" fill="#5597d9" stroke="#0f6dc4" stroke-width="1.25"/>
<circle cx="403.70" cy="232.45" r="3.65" fill="#5597d9" stroke="#0f6dc4" stroke-width="1.25"/>
<circle cx="404.61" cy="234.44" r="3.65" fill="#5597d9" stroke="#0f6dc4" stroke-width="1.25"/>
<circle cx="405.52" cy="237.92" r="3.65" fill="#5597d9" stroke="#0f6dc4" stroke-width="1.25"/>
<circle cx="406.42" cy="237.92" r="3.65" fill="#5597d9" stroke="#0f6dc4" stroke-width="1.25"/>
<circle cx="407.33" cy="237.92" r="3.65" fill="#5597d9" stroke="#0f6dc4" stroke-width="1.25"/>
<circle cx="408.24" cy="237.92" r="3.65" fill="#5597d9" stroke="#0f6dc4" stroke-width="1.25"/>
<circle cx="409.15" cy="237.92" r="3.65" fill="#5597d9" stroke="#0f6dc4" stroke-width="1.25"/>
<circle cx="410.06" cy="237.92" r="3.65" fill="#5597d9" stroke="#0f6dc4" stroke-width="1.25"/>
<circle cx="410.96" cy="237.92" r="3.65" fill="#5597d9" stroke="#0f6dc4" stroke-width="1.25"/>
<circle cx="411.87" cy="237.92" r="3.65" fill="#5597d9" stroke="#0f6dc4" stroke-width="1.25"/>
<circle cx="412.78" cy="237.92" r="3.65" fill="#5597d9" stroke="#0f6dc4" stroke-width="1.25"/>
<circle cx="413.69" cy="237.92" r="3.65" fill="#5597d9" stroke="#0f6dc4" stroke-width="1.25"/>
<circle cx="414.60" cy="237.92" r="3.65" fill="#5597d9" stroke="#0f6dc4" stroke-width="1.25"/>
<circle cx="415.50" cy="242.41" r="3.65" fill="#5597d9" stroke="#0f6dc4" stroke-width="1.25"/>
<circle cx="416.41" cy="244.97" r="3.65" fill="#5597d9" stroke="#0f6dc4" stroke-width="1.25"/>
<circle cx="417.32" cy="244.97" r="3.65" fill="#5597d9" stroke="#0f6dc4" stroke-width="1.25"/>
<circle cx="418.23" cy="244.97" r="3.65" fill="#5597d9" stroke="#0f6dc4" stroke-width="1.25"/>
<circle cx="419.14" cy="246.46" r="3.65" fill="#5597d9" stroke="#0f6dc4" stroke-width="1.25"/>
<circle cx="420.04" cy="246.46" r="3.65" fill="#5597d9" stroke="#0f6dc4" stroke-width="1.25"/>
<circle cx="420.95" cy="246.46" r="3.65" fill="#5597d9" stroke="#0f6dc4" stroke-width="1.25"/>
<circle cx="421.86" cy="246.46" r="3.65" fill="#5597d9" stroke="#0f6dc4" stroke-width="1.25"/>
<circle cx="422.77" cy="246.46" r="3.65" fill="#5597d9" stroke="#0f6dc4" stroke-width="1.25"/>
<circle cx="423.68" cy="246.46" r="3.65" fill="#5597d9" stroke="#0f6dc4" stroke-width="1.25"/>
<circle cx="424.58" cy="246.46" r="3.65" fill="#5597d9" stroke="#0f6dc4" stroke-width="1.25"/>
<circle cx="425.49" cy="246.46" r="3.65" fill="#5597d9" stroke="#0f6dc4" stroke-width="1.25"/>
<circle cx="426.40" cy="258.51" r="3.65" fill="#5597d9" stroke="#0f6dc4" stroke-width="1.25"/>
<circle cx="427.31" cy="258.51" r="3.65" fill="#5597d9" stroke="#0f6dc4" stroke-width="1.25"/>
<circle cx="428.22" cy="258.51" r="3.65" fill="#5597d9" stroke="#0f6dc4" stroke-width="1.25"/>
<circle cx="429.12" cy="258.51" r="3.65" fill="#5597d9" stroke="#0f6dc4" stroke-width="1.25"/>
<circle cx="430.03" cy="258.51" r="3.65" fill="#5597d9" stroke="#0f6dc4" stroke-width="1.25"/>
<circle cx="430.94" cy="258.51" r="3.65" fill="#5597d9" stroke="#0f6dc4" stroke-width="1.25"/>
<circle cx="431.85" cy="258.51" r="3.65" fill="#5597d9" stroke="#0f6dc4" stroke-width="1.25"/>
<circle cx="432.76" cy="258.51" r="3.65" fill="#5597d9" stroke="#0f6dc4" stroke-width="1.25"/>
<circle cx="433.66" cy="258.51" r="3.65" fill="#5597d9" stroke="#0f6dc4" stroke-width="1.25"/>
<circle cx="434.57" cy="279.10" r="3.65" fill="#5597d9" stroke="#0f6dc4" stroke-width="1.25"/>
<circle cx="268.60" cy="31.80" r="3.65" fill="#ff0000" stroke="#5e3d92" stroke-width="1.25"/>
<circle cx="271.20" cy="69.90" r="3.65" fill="#ff0000" stroke="#5e3d92" stroke-width="1.25"/>
<circle cx="279.30" cy="95.80" r="3.65" fill="#ff0000" stroke="#5e3d92" stroke-width="1.25"/>
<circle cx="303.70" cy="123.40" r="3.65" fill="#ff0000" stroke="#5e3d92" stroke-width="1.25"/>
<circle cx="331.00" cy="154.80" r="3.65" fill="#ff0000" stroke="#5e3d92" stroke-width="1.25"/>
<circle cx="346.60" cy="171.10" r="3.65" fill="#ff0000" stroke="#5e3d92" stroke-width="1.25"/>
<circle cx="352.00" cy="174.60" r="3.65" fill="#ff0000" stroke="#5e3d92" stroke-width="1.25"/>
<circle cx="367.10" cy="189.70" r="3.65" fill="#ff0000" stroke="#5e3d92" stroke-width="1.25"/>
<circle cx="387.30" cy="213.30" r="3.65" fill="#ff0000" stroke="#5e3d92" stroke-width="1.25"/>
<circle cx="397.20" cy="230.90" r="3.65" fill="#ff0000" stroke="#5e3d92" stroke-width="1.25"/>
<circle cx="418.10" cy="246.30" r="3.65" fill="#ff0000" stroke="#5e3d92" stroke-width="1.25"/>
<circle cx="430.10" cy="258.20" r="3.65" fill="#ff0000" stroke="#5e3d92" stroke-width="1.25"/>
<text class="l" x="274.5" y="35.8" font-size="10.4" fill="#1a1a1a" textLength="12.6" lengthAdjust="spacingAndGlyphs">C3</text>
<text class="l" x="277.3" y="70.9" font-size="10.4" fill="#1a1a1a" textLength="13.1" lengthAdjust="spacingAndGlyphs">CP</text>
<text class="l" x="285.6" y="94.4" font-size="10.4" fill="#1a1a1a" textLength="25.0" lengthAdjust="spacingAndGlyphs">ITIH4</text>
<text class="l" x="312.3" y="122.6" font-size="10.4" fill="#1a1a1a" textLength="31.6" lengthAdjust="spacingAndGlyphs">AZGP1</text>
<text class="l" x="307.3" y="163.2" font-size="10.4" fill="#1a1a1a" textLength="17.7" lengthAdjust="spacingAndGlyphs">C1S</text>
<text class="l" x="348.4" y="166.5" font-size="10.4" fill="#1a1a1a" textLength="18.3" lengthAdjust="spacingAndGlyphs">CFP</text>
<text class="l" x="313.0" y="185.4" font-size="10.4" fill="#1a1a1a" textLength="31.9" lengthAdjust="spacingAndGlyphs">C4BPB</text>
<text class="l" x="373.7" y="187.9" font-size="10.4" fill="#1a1a1a" textLength="25.9" lengthAdjust="spacingAndGlyphs">CD44</text>
<text class="l" x="393.2" y="210.8" font-size="10.4" fill="#1a1a1a" textLength="26.5" lengthAdjust="spacingAndGlyphs">ICAM</text>
<text class="l" x="363.9" y="235.8" font-size="10.4" fill="#1a1a1a" textLength="22.4" lengthAdjust="spacingAndGlyphs">B2M</text>
<text class="l" x="363.9" y="251.2" font-size="10.4" fill="#1a1a1a" textLength="48.0" lengthAdjust="spacingAndGlyphs">CEACAM1</text>
<text class="l" x="375.4" y="265.4" font-size="10.4" fill="#1a1a1a" textLength="40.8" lengthAdjust="spacingAndGlyphs">NOTCH1</text>
<rect x="468.5" y="5.0" width="180.50" height="272.50" fill="#f2f2f2" stroke="#444444" stroke-width="1.6" stroke-linejoin="round"/>
<line x1="464.0" y1="5.00" x2="468.5" y2="5.00" stroke="#222" stroke-width="1.1"/>
<line x1="464.0" y1="73.12" x2="468.5" y2="73.12" stroke="#222" stroke-width="1.1"/>
<line x1="464.0" y1="141.25" x2="468.5" y2="141.25" stroke="#222" stroke-width="1.1"/>
<line x1="464.0" y1="209.38" x2="468.5" y2="209.38" stroke="#222" stroke-width="1.1"/>
<line x1="464.0" y1="277.50" x2="468.5" y2="277.50" stroke="#222" stroke-width="1.1"/>
<line x1="468.5" y1="5.0" x2="468.5" y2="277.5" stroke="#1a1a1a" stroke-width="1.2"/>
<line x1="468.5" y1="277.5" x2="649.0" y2="277.5" stroke="#404040" stroke-width="1.3"/>
<line x1="468.50" y1="273.5" x2="468.50" y2="281.7" stroke="#333" stroke-width="1.1"/>
<text x="468.50" y="299.20" font-size="12.3" text-anchor="middle" fill="#262626">0</text>
<line x1="504.60" y1="273.5" x2="504.60" y2="281.7" stroke="#333" stroke-width="1.1"/>
<text x="504.60" y="299.20" font-size="12.3" text-anchor="middle" fill="#262626">50</text>
<line x1="540.70" y1="273.5" x2="540.70" y2="281.7" stroke="#333" stroke-width="1.1"/>
<text x="540.70" y="299.20" font-size="12.3" text-anchor="middle" fill="#262626">100</text>
<line x1="576.80" y1="273.5" x2="576.80" y2="281.7" stroke="#333" stroke-width="1.1"/>
<text x="576.80" y="299.20" font-size="12.3" text-anchor="middle" fill="#262626">150</text>
<line x1="612.90" y1="273.5" x2="612.90" y2="281.7" stroke="#333" stroke-width="1.1"/>
<text x="612.90" y="299.20" font-size="12.3" text-anchor="middle" fill="#262626">200</text>
<line x1="649.00" y1="273.5" x2="649.00" y2="281.7" stroke="#333" stroke-width="1.1"/>
<text x="649.00" y="299.20" font-size="12.3" text-anchor="middle" fill="#262626">250</text>
<path d="M468.6,306 L468.6,318.5 Q468.6,320 470.1,320 L647.4,320 Q648.9,320 648.9,318.5 L648.9,306" fill="none" stroke="#6e6e6e" stroke-width="1"/>
<text x="558.75" y="333.6" font-size="13.3" text-anchor="middle" fill="#1a1a1a">PHA</text>
<circle cx="469.22" cy="24.90" r="3.65" fill="#5597d9" stroke="#0f6dc4" stroke-width="1.25"/>
<circle cx="469.94" cy="32.00" r="3.65" fill="#5597d9" stroke="#0f6dc4" stroke-width="1.25"/>
<circle cx="470.67" cy="58.80" r="3.65" fill="#5597d9" stroke="#0f6dc4" stroke-width="1.25"/>
<circle cx="471.39" cy="66.10" r="3.65" fill="#5597d9" stroke="#0f6dc4" stroke-width="1.25"/>
<circle cx="472.11" cy="70.06" r="3.65" fill="#5597d9" stroke="#0f6dc4" stroke-width="1.25"/>
<circle cx="472.83" cy="74.58" r="3.65" fill="#5597d9" stroke="#0f6dc4" stroke-width="1.25"/>
<circle cx="473.55" cy="78.52" r="3.65" fill="#5597d9" stroke="#0f6dc4" stroke-width="1.25"/>
<circle cx="474.28" cy="79.20" r="3.65" fill="#5597d9" stroke="#0f6dc4" stroke-width="1.25"/>
<circle cx="475.00" cy="79.75" r="3.65" fill="#5597d9" stroke="#0f6dc4" stroke-width="1.25"/>
<circle cx="475.72" cy="84.32" r="3.65" fill="#5597d9" stroke="#0f6dc4" stroke-width="1.25"/>
<circle cx="476.44" cy="84.81" r="3.65" fill="#5597d9" stroke="#0f6dc4" stroke-width="1.25"/>
<circle cx="477.16" cy="85.22" r="3.65" fill="#5597d9" stroke="#0f6dc4" stroke-width="1.25"/>
<circle cx="477.89" cy="85.58" r="3.65" fill="#5597d9" stroke="#0f6dc4" stroke-width="1.25"/>
<circle cx="478.61" cy="88.60" r="3.65" fill="#5597d9" stroke="#0f6dc4" stroke-width="1.25"/>
<circle cx="479.33" cy="88.96" r="3.65" fill="#5597d9" stroke="#0f6dc4" stroke-width="1.25"/>
<circle cx="480.05" cy="91.28" r="3.65" fill="#5597d9" stroke="#0f6dc4" stroke-width="1.25"/>
<circle cx="480.77" cy="91.74" r="3.65" fill="#5597d9" stroke="#0f6dc4" stroke-width="1.25"/>
<circle cx="481.50" cy="95.40" r="3.65" fill="#5597d9" stroke="#0f6dc4" stroke-width="1.25"/>
<circle cx="482.22" cy="95.86" r="3.65" fill="#5597d9" stroke="#0f6dc4" stroke-width="1.25"/>
<circle cx="482.94" cy="96.32" r="3.65" fill="#5597d9" stroke="#0f6dc4" stroke-width="1.25"/>
<circle cx="483.66" cy="96.79" r="3.65" fill="#5597d9" stroke="#0f6dc4" stroke-width="1.25"/>
<circle cx="484.38" cy="101.02" r="3.65" fill="#5597d9" stroke="#0f6dc4" stroke-width="1.25"/>
<circle cx="485.11" cy="101.47" r="3.65" fill="#5597d9" stroke="#0f6dc4" stroke-width="1.25"/>
<circle cx="485.83" cy="101.92" r="3.65" fill="#5597d9" stroke="#0f6dc4" stroke-width="1.25"/>
<circle cx="486.55" cy="105.26" r="3.65" fill="#5597d9" stroke="#0f6dc4" stroke-width="1.25"/>
<circle cx="487.27" cy="105.62" r="3.65" fill="#5597d9" stroke="#0f6dc4" stroke-width="1.25"/>
<circle cx="487.99" cy="105.92" r="3.65" fill="#5597d9" stroke="#0f6dc4" stroke-width="1.25"/>
<circle cx="488.72" cy="108.36" r="3.65" fill="#5597d9" stroke="#0f6dc4" stroke-width="1.25"/>
<circle cx="489.44" cy="108.66" r="3.65" fill="#5597d9" stroke="#0f6dc4" stroke-width="1.25"/>
<circle cx="490.16" cy="108.96" r="3.65" fill="#5597d9" stroke="#0f6dc4" stroke-width="1.25"/>
<circle cx="490.88" cy="112.46" r="3.65" fill="#5597d9" stroke="#0f6dc4" stroke-width="1.25"/>
<circle cx="491.60" cy="112.89" r="3.65" fill="#5597d9" stroke="#0f6dc4" stroke-width="1.25"/>
<circle cx="492.33" cy="113.32" r="3.65" fill="#5597d9" stroke="#0f6dc4" stroke-width="1.25"/>
<circle cx="493.05" cy="113.72" r="3.65" fill="#5597d9" stroke="#0f6dc4" stroke-width="1.25"/>
<circle cx="493.77" cy="116.85" r="3.65" fill="#5597d9" stroke="#0f6dc4" stroke-width="1.25"/>
<circle cx="494.49" cy="117.10" r="3.65" fill="#5597d9" stroke="#0f6dc4" stroke-width="1.25"/>
<circle cx="495.21" cy="117.34" r="3.65" fill="#5597d9" stroke="#0f6dc4" stroke-width="1.25"/>
<circle cx="495.94" cy="117.59" r="3.65" fill="#5597d9" stroke="#0f6dc4" stroke-width="1.25"/>
<circle cx="496.66" cy="120.15" r="3.65" fill="#5597d9" stroke="#0f6dc4" stroke-width="1.25"/>
<circle cx="497.38" cy="120.40" r="3.65" fill="#5597d9" stroke="#0f6dc4" stroke-width="1.25"/>
<circle cx="498.10" cy="120.66" r="3.65" fill="#5597d9" stroke="#0f6dc4" stroke-width="1.25"/>
<circle cx="498.82" cy="120.92" r="3.65" fill="#5597d9" stroke="#0f6dc4" stroke-width="1.25"/>
<circle cx="499.55" cy="123.28" r="3.65" fill="#5597d9" stroke="#0f6dc4" stroke-width="1.25"/>
<circle cx="500.27" cy="123.53" r="3.65" fill="#5597d9" stroke="#0f6dc4" stroke-width="1.25"/>
<circle cx="500.99" cy="123.79" r="3.65" fill="#5597d9" stroke="#0f6dc4" stroke-width="1.25"/>
<circle cx="501.71" cy="126.77" r="3.65" fill="#5597d9" stroke="#0f6dc4" stroke-width="1.25"/>
<circle cx="502.43" cy="127.32" r="3.65" fill="#5597d9" stroke="#0f6dc4" stroke-width="1.25"/>
<circle cx="503.16" cy="127.80" r="3.65" fill="#5597d9" stroke="#0f6dc4" stroke-width="1.25"/>
<circle cx="503.88" cy="130.41" r="3.65" fill="#5597d9" stroke="#0f6dc4" stroke-width="1.25"/>
<circle cx="504.60" cy="130.67" r="3.65" fill="#5597d9" stroke="#0f6dc4" stroke-width="1.25"/>
<circle cx="505.32" cy="130.92" r="3.65" fill="#5597d9" stroke="#0f6dc4" stroke-width="1.25"/>
<circle cx="506.04" cy="133.24" r="3.65" fill="#5597d9" stroke="#0f6dc4" stroke-width="1.25"/>
<circle cx="506.77" cy="133.49" r="3.65" fill="#5597d9" stroke="#0f6dc4" stroke-width="1.25"/>
<circle cx="507.49" cy="133.74" r="3.65" fill="#5597d9" stroke="#0f6dc4" stroke-width="1.25"/>
<circle cx="508.21" cy="133.99" r="3.65" fill="#5597d9" stroke="#0f6dc4" stroke-width="1.25"/>
<circle cx="508.93" cy="136.02" r="3.65" fill="#5597d9" stroke="#0f6dc4" stroke-width="1.25"/>
<circle cx="509.65" cy="136.27" r="3.65" fill="#5597d9" stroke="#0f6dc4" stroke-width="1.25"/>
<circle cx="510.38" cy="138.12" r="3.65" fill="#5597d9" stroke="#0f6dc4" stroke-width="1.25"/>
<circle cx="511.10" cy="138.59" r="3.65" fill="#5597d9" stroke="#0f6dc4" stroke-width="1.25"/>
<circle cx="511.82" cy="140.74" r="3.65" fill="#5597d9" stroke="#0f6dc4" stroke-width="1.25"/>
<circle cx="512.54" cy="140.93" r="3.65" fill="#5597d9" stroke="#0f6dc4" stroke-width="1.25"/>
<circle cx="513.26" cy="141.12" r="3.65" fill="#5597d9" stroke="#0f6dc4" stroke-width="1.25"/>
<circle cx="513.99" cy="142.45" r="3.65" fill="#5597d9" stroke="#0f6dc4" stroke-width="1.25"/>
<circle cx="514.71" cy="142.64" r="3.65" fill="#5597d9" stroke="#0f6dc4" stroke-width="1.25"/>
<circle cx="515.43" cy="143.96" r="3.65" fill="#5597d9" stroke="#0f6dc4" stroke-width="1.25"/>
<circle cx="516.15" cy="144.15" r="3.65" fill="#5597d9" stroke="#0f6dc4" stroke-width="1.25"/>
<circle cx="516.87" cy="144.35" r="3.65" fill="#5597d9" stroke="#0f6dc4" stroke-width="1.25"/>
<circle cx="517.60" cy="145.99" r="3.65" fill="#5597d9" stroke="#0f6dc4" stroke-width="1.25"/>
<circle cx="518.32" cy="146.27" r="3.65" fill="#5597d9" stroke="#0f6dc4" stroke-width="1.25"/>
<circle cx="519.04" cy="148.22" r="3.65" fill="#5597d9" stroke="#0f6dc4" stroke-width="1.25"/>
<circle cx="519.76" cy="148.50" r="3.65" fill="#5597d9" stroke="#0f6dc4" stroke-width="1.25"/>
<circle cx="520.48" cy="148.79" r="3.65" fill="#5597d9" stroke="#0f6dc4" stroke-width="1.25"/>
<circle cx="521.21" cy="152.13" r="3.65" fill="#5597d9" stroke="#0f6dc4" stroke-width="1.25"/>
<circle cx="521.93" cy="152.56" r="3.65" fill="#5597d9" stroke="#0f6dc4" stroke-width="1.25"/>
<circle cx="522.65" cy="152.99" r="3.65" fill="#5597d9" stroke="#0f6dc4" stroke-width="1.25"/>
<circle cx="523.37" cy="153.43" r="3.65" fill="#5597d9" stroke="#0f6dc4" stroke-width="1.25"/>
<circle cx="524.09" cy="159.02" r="3.65" fill="#5597d9" stroke="#0f6dc4" stroke-width="1.25"/>
<circle cx="524.82" cy="159.71" r="3.65" fill="#5597d9" stroke="#0f6dc4" stroke-width="1.25"/>
<circle cx="525.54" cy="160.12" r="3.65" fill="#5597d9" stroke="#0f6dc4" stroke-width="1.25"/>
<circle cx="526.26" cy="160.35" r="3.65" fill="#5597d9" stroke="#0f6dc4" stroke-width="1.25"/>
<circle cx="526.98" cy="163.22" r="3.65" fill="#5597d9" stroke="#0f6dc4" stroke-width="1.25"/>
<circle cx="527.70" cy="163.46" r="3.65" fill="#5597d9" stroke="#0f6dc4" stroke-width="1.25"/>
<circle cx="528.43" cy="163.69" r="3.65" fill="#5597d9" stroke="#0f6dc4" stroke-width="1.25"/>
<circle cx="529.15" cy="163.92" r="3.65" fill="#5597d9" stroke="#0f6dc4" stroke-width="1.25"/>
<circle cx="529.87" cy="166.57" r="3.65" fill="#5597d9" stroke="#0f6dc4" stroke-width="1.25"/>
<circle cx="530.59" cy="166.85" r="3.65" fill="#5597d9" stroke="#0f6dc4" stroke-width="1.25"/>
<circle cx="531.31" cy="167.13" r="3.65" fill="#5597d9" stroke="#0f6dc4" stroke-width="1.25"/>
<circle cx="532.04" cy="167.41" r="3.65" fill="#5597d9" stroke="#0f6dc4" stroke-width="1.25"/>
<circle cx="532.76" cy="170.29" r="3.65" fill="#5597d9" stroke="#0f6dc4" stroke-width="1.25"/>
<circle cx="533.48" cy="170.57" r="3.65" fill="#5597d9" stroke="#0f6dc4" stroke-width="1.25"/>
<circle cx="534.20" cy="170.86" r="3.65" fill="#5597d9" stroke="#0f6dc4" stroke-width="1.25"/>
<circle cx="534.92" cy="171.14" r="3.65" fill="#5597d9" stroke="#0f6dc4" stroke-width="1.25"/>
<circle cx="535.65" cy="173.75" r="3.65" fill="#5597d9" stroke="#0f6dc4" stroke-width="1.25"/>
<circle cx="536.37" cy="174.04" r="3.65" fill="#5597d9" stroke="#0f6dc4" stroke-width="1.25"/>
<circle cx="537.09" cy="174.32" r="3.65" fill="#5597d9" stroke="#0f6dc4" stroke-width="1.25"/>
<circle cx="537.81" cy="176.48" r="3.65" fill="#5597d9" stroke="#0f6dc4" stroke-width="1.25"/>
<circle cx="538.53" cy="176.73" r="3.65" fill="#5597d9" stroke="#0f6dc4" stroke-width="1.25"/>
<circle cx="539.26" cy="177.10" r="3.65" fill="#5597d9" stroke="#0f6dc4" stroke-width="1.25"/>
<circle cx="539.98" cy="178.24" r="3.65" fill="#5597d9" stroke="#0f6dc4" stroke-width="1.25"/>
<circle cx="540.70" cy="178.55" r="3.65" fill="#5597d9" stroke="#0f6dc4" stroke-width="1.25"/>
<circle cx="541.42" cy="180.38" r="3.65" fill="#5597d9" stroke="#0f6dc4" stroke-width="1.25"/>
<circle cx="542.14" cy="180.71" r="3.65" fill="#5597d9" stroke="#0f6dc4" stroke-width="1.25"/>
<circle cx="542.87" cy="181.93" r="3.65" fill="#5597d9" stroke="#0f6dc4" stroke-width="1.25"/>
<circle cx="543.59" cy="182.28" r="3.65" fill="#5597d9" stroke="#0f6dc4" stroke-width="1.25"/>
<circle cx="544.31" cy="182.64" r="3.65" fill="#5597d9" stroke="#0f6dc4" stroke-width="1.25"/>
<circle cx="545.03" cy="184.36" r="3.65" fill="#5597d9" stroke="#0f6dc4" stroke-width="1.25"/>
<circle cx="545.75" cy="184.74" r="3.65" fill="#5597d9" stroke="#0f6dc4" stroke-width="1.25"/>
<circle cx="546.48" cy="184.74" r="3.65" fill="#5597d9" stroke="#0f6dc4" stroke-width="1.25"/>
<circle cx="547.20" cy="185.14" r="3.65" fill="#5597d9" stroke="#0f6dc4" stroke-width="1.25"/>
<circle cx="547.92" cy="186.69" r="3.65" fill="#5597d9" stroke="#0f6dc4" stroke-width="1.25"/>
<circle cx="548.64" cy="187.10" r="3.65" fill="#5597d9" stroke="#0f6dc4" stroke-width="1.25"/>
<circle cx="549.36" cy="187.10" r="3.65" fill="#5597d9" stroke="#0f6dc4" stroke-width="1.25"/>
<circle cx="550.09" cy="189.22" r="3.65" fill="#5597d9" stroke="#0f6dc4" stroke-width="1.25"/>
<circle cx="550.81" cy="189.22" r="3.65" fill="#5597d9" stroke="#0f6dc4" stroke-width="1.25"/>
<circle cx="551.53" cy="189.68" r="3.65" fill="#5597d9" stroke="#0f6dc4" stroke-width="1.25"/>
<circle cx="552.25" cy="191.52" r="3.65" fill="#5597d9" stroke="#0f6dc4" stroke-width="1.25"/>
<circle cx="552.97" cy="192.00" r="3.65" fill="#5597d9" stroke="#0f6dc4" stroke-width="1.25"/>
<circle cx="553.70" cy="192.00" r="3.65" fill="#5597d9" stroke="#0f6dc4" stroke-width="1.25"/>
<circle cx="554.42" cy="192.51" r="3.65" fill="#5597d9" stroke="#0f6dc4" stroke-width="1.25"/>
<circle cx="555.14" cy="194.09" r="3.65" fill="#5597d9" stroke="#0f6dc4" stroke-width="1.25"/>
<circle cx="555.86" cy="194.09" r="3.65" fill="#5597d9" stroke="#0f6dc4" stroke-width="1.25"/>
<circle cx="556.58" cy="194.63" r="3.65" fill="#5597d9" stroke="#0f6dc4" stroke-width="1.25"/>
<circle cx="557.31" cy="196.83" r="3.65" fill="#5597d9" stroke="#0f6dc4" stroke-width="1.25"/>
<circle cx="558.03" cy="197.40" r="3.65" fill="#5597d9" stroke="#0f6dc4" stroke-width="1.25"/>
<circle cx="558.75" cy="197.40" r="3.65" fill="#5597d9" stroke="#0f6dc4" stroke-width="1.25"/>
<circle cx="559.47" cy="198.01" r="3.65" fill="#5597d9" stroke="#0f6dc4" stroke-width="1.25"/>
<circle cx="560.19" cy="200.19" r="3.65" fill="#5597d9" stroke="#0f6dc4" stroke-width="1.25"/>
<circle cx="560.92" cy="200.19" r="3.65" fill="#5597d9" stroke="#0f6dc4" stroke-width="1.25"/>
<circle cx="561.64" cy="200.85" r="3.65" fill="#5597d9" stroke="#0f6dc4" stroke-width="1.25"/>
<circle cx="562.36" cy="200.85" r="3.65" fill="#5597d9" stroke="#0f6dc4" stroke-width="1.25"/>
<circle cx="563.08" cy="201.61" r="3.65" fill="#5597d9" stroke="#0f6dc4" stroke-width="1.25"/>
<circle cx="563.80" cy="201.61" r="3.65" fill="#5597d9" stroke="#0f6dc4" stroke-width="1.25"/>
<circle cx="564.53" cy="201.61" r="3.65" fill="#5597d9" stroke="#0f6dc4" stroke-width="1.25"/>
<circle cx="565.25" cy="202.44" r="3.65" fill="#5597d9" stroke="#0f6dc4" stroke-width="1.25"/>
<circle cx="565.97" cy="202.44" r="3.65" fill="#5597d9" stroke="#0f6dc4" stroke-width="1.25"/>
<circle cx="566.69" cy="203.15" r="3.65" fill="#5597d9" stroke="#0f6dc4" stroke-width="1.25"/>
<circle cx="567.41" cy="203.15" r="3.65" fill="#5597d9" stroke="#0f6dc4" stroke-width="1.25"/>
<circle cx="568.14" cy="204.58" r="3.65" fill="#5597d9" stroke="#0f6dc4" stroke-width="1.25"/>
<circle cx="568.86" cy="204.58" r="3.65" fill="#5597d9" stroke="#0f6dc4" stroke-width="1.25"/>
<circle cx="569.58" cy="205.35" r="3.65" fill="#5597d9" stroke="#0f6dc4" stroke-width="1.25"/>
<circle cx="570.30" cy="207.21" r="3.65" fill="#5597d9" stroke="#0f6dc4" stroke-width="1.25"/>
<circle cx="571.02" cy="207.21" r="3.65" fill="#5597d9" stroke="#0f6dc4" stroke-width="1.25"/>
<circle cx="571.75" cy="208.06" r="3.65" fill="#5597d9" stroke="#0f6dc4" stroke-width="1.25"/>
<circle cx="572.47" cy="209.38" r="3.65" fill="#5597d9" stroke="#0f6dc4" stroke-width="1.25"/>
<circle cx="573.19" cy="209.38" r="3.65" fill="#5597d9" stroke="#0f6dc4" stroke-width="1.25"/>
<circle cx="573.91" cy="212.49" r="3.65" fill="#5597d9" stroke="#0f6dc4" stroke-width="1.25"/>
<circle cx="574.63" cy="212.49" r="3.65" fill="#5597d9" stroke="#0f6dc4" stroke-width="1.25"/>
<circle cx="575.36" cy="212.49" r="3.65" fill="#5597d9" stroke="#0f6dc4" stroke-width="1.25"/>
<circle cx="576.08" cy="214.12" r="3.65" fill="#5597d9" stroke="#0f6dc4" stroke-width="1.25"/>
<circle cx="576.80" cy="215.16" r="3.65" fill="#5597d9" stroke="#0f6dc4" stroke-width="1.25"/>
<circle cx="577.52" cy="215.16" r="3.65" fill="#5597d9" stroke="#0f6dc4" stroke-width="1.25"/>
<circle cx="578.24" cy="217.82" r="3.65" fill="#5597d9" stroke="#0f6dc4" stroke-width="1.25"/>
<circle cx="578.97" cy="219.01" r="3.65" fill="#5597d9" stroke="#0f6dc4" stroke-width="1.25"/>
<circle cx="579.69" cy="219.01" r="3.65" fill="#5597d9" stroke="#0f6dc4" stroke-width="1.25"/>
<circle cx="580.41" cy="219.93" r="3.65" fill="#5597d9" stroke="#0f6dc4" stroke-width="1.25"/>
<circle cx="581.13" cy="219.93" r="3.65" fill="#5597d9" stroke="#0f6dc4" stroke-width="1.25"/>
<circle cx="581.85" cy="224.49" r="3.65" fill="#5597d9" stroke="#0f6dc4" stroke-width="1.25"/>
<circle cx="582.58" cy="224.49" r="3.65" fill="#5597d9" stroke="#0f6dc4" stroke-width="1.25"/>
<circle cx="583.30" cy="224.49" r="3.65" fill="#5597d9" stroke="#0f6dc4" stroke-width="1.25"/>
<circle cx="584.02" cy="224.49" r="3.65" fill="#5597d9" stroke="#0f6dc4" stroke-width="1.25"/>
<circle cx="584.74" cy="224.49" r="3.65" fill="#5597d9" stroke="#0f6dc4" stroke-width="1.25"/>
<circle cx="585.46" cy="224.49" r="3.65" fill="#5597d9" stroke="#0f6dc4" stroke-width="1.25"/>
<circle cx="586.19" cy="224.49" r="3.65" fill="#5597d9" stroke="#0f6dc4" stroke-width="1.25"/>
<circle cx="586.91" cy="224.49" r="3.65" fill="#5597d9" stroke="#0f6dc4" stroke-width="1.25"/>
<circle cx="587.63" cy="224.49" r="3.65" fill="#5597d9" stroke="#0f6dc4" stroke-width="1.25"/>
<circle cx="588.35" cy="229.88" r="3.65" fill="#5597d9" stroke="#0f6dc4" stroke-width="1.25"/>
<circle cx="589.07" cy="229.88" r="3.65" fill="#5597d9" stroke="#0f6dc4" stroke-width="1.25"/>
<circle cx="589.80" cy="229.88" r="3.65" fill="#5597d9" stroke="#0f6dc4" stroke-width="1.25"/>
<circle cx="590.52" cy="229.88" r="3.65" fill="#5597d9" stroke="#0f6dc4" stroke-width="1.25"/>
<circle cx="591.24" cy="236.48" r="3.65" fill="#5597d9" stroke="#0f6dc4" stroke-width="1.25"/>
<circle cx="591.96" cy="236.48" r="3.65" fill="#5597d9" stroke="#0f6dc4" stroke-width="1.25"/>
<circle cx="592.68" cy="236.48" r="3.65" fill="#5597d9" stroke="#0f6dc4" stroke-width="1.25"/>
<circle cx="593.41" cy="236.48" r="3.65" fill="#5597d9" stroke="#0f6dc4" stroke-width="1.25"/>
<circle cx="594.13" cy="236.48" r="3.65" fill="#5597d9" stroke="#0f6dc4" stroke-width="1.25"/>
<circle cx="594.85" cy="236.48" r="3.65" fill="#5597d9" stroke="#0f6dc4" stroke-width="1.25"/>
<circle cx="595.57" cy="236.48" r="3.65" fill="#5597d9" stroke="#0f6dc4" stroke-width="1.25"/>
<circle cx="596.29" cy="236.48" r="3.65" fill="#5597d9" stroke="#0f6dc4" stroke-width="1.25"/>
<circle cx="597.02" cy="236.48" r="3.65" fill="#5597d9" stroke="#0f6dc4" stroke-width="1.25"/>
<circle cx="597.74" cy="245.00" r="3.65" fill="#5597d9" stroke="#0f6dc4" stroke-width="1.25"/>
<circle cx="598.46" cy="245.00" r="3.65" fill="#5597d9" stroke="#0f6dc4" stroke-width="1.25"/>
<circle cx="599.18" cy="245.00" r="3.65" fill="#5597d9" stroke="#0f6dc4" stroke-width="1.25"/>
<circle cx="599.90" cy="245.00" r="3.65" fill="#5597d9" stroke="#0f6dc4" stroke-width="1.25"/>
<circle cx="600.63" cy="245.00" r="3.65" fill="#5597d9" stroke="#0f6dc4" stroke-width="1.25"/>
<circle cx="601.35" cy="245.00" r="3.65" fill="#5597d9" stroke="#0f6dc4" stroke-width="1.25"/>
<circle cx="602.07" cy="245.00" r="3.65" fill="#5597d9" stroke="#0f6dc4" stroke-width="1.25"/>
<circle cx="602.79" cy="245.00" r="3.65" fill="#5597d9" stroke="#0f6dc4" stroke-width="1.25"/>
<circle cx="603.51" cy="245.00" r="3.65" fill="#5597d9" stroke="#0f6dc4" stroke-width="1.25"/>
<circle cx="604.24" cy="245.00" r="3.65" fill="#5597d9" stroke="#0f6dc4" stroke-width="1.25"/>
<circle cx="604.96" cy="245.00" r="3.65" fill="#5597d9" stroke="#0f6dc4" stroke-width="1.25"/>
<circle cx="605.68" cy="245.00" r="3.65" fill="#5597d9" stroke="#0f6dc4" stroke-width="1.25"/>
<circle cx="606.40" cy="245.00" r="3.65" fill="#5597d9" stroke="#0f6dc4" stroke-width="1.25"/>
<circle cx="607.12" cy="245.00" r="3.65" fill="#5597d9" stroke="#0f6dc4" stroke-width="1.25"/>
<circle cx="607.85" cy="245.00" r="3.65" fill="#5597d9" stroke="#0f6dc4" stroke-width="1.25"/>
<circle cx="608.57" cy="245.00" r="3.65" fill="#5597d9" stroke="#0f6dc4" stroke-width="1.25"/>
<circle cx="609.29" cy="245.00" r="3.65" fill="#5597d9" stroke="#0f6dc4" stroke-width="1.25"/>
<circle cx="610.01" cy="245.00" r="3.65" fill="#5597d9" stroke="#0f6dc4" stroke-width="1.25"/>
<circle cx="610.73" cy="256.99" r="3.65" fill="#5597d9" stroke="#0f6dc4" stroke-width="1.25"/>
<circle cx="611.46" cy="256.99" r="3.65" fill="#5597d9" stroke="#0f6dc4" stroke-width="1.25"/>
<circle cx="612.18" cy="256.99" r="3.65" fill="#5597d9" stroke="#0f6dc4" stroke-width="1.25"/>
<circle cx="612.90" cy="256.99" r="3.65" fill="#5597d9" stroke="#0f6dc4" stroke-width="1.25"/>
<circle cx="613.62" cy="256.99" r="3.65" fill="#5597d9" stroke="#0f6dc4" stroke-width="1.25"/>
<circle cx="614.34" cy="256.99" r="3.65" fill="#5597d9" stroke="#0f6dc4" stroke-width="1.25"/>
<circle cx="615.07" cy="256.99" r="3.65" fill="#5597d9" stroke="#0f6dc4" stroke-width="1.25"/>
<circle cx="615.79" cy="256.99" r="3.65" fill="#5597d9" stroke="#0f6dc4" stroke-width="1.25"/>
<circle cx="616.51" cy="256.99" r="3.65" fill="#5597d9" stroke="#0f6dc4" stroke-width="1.25"/>
<circle cx="617.23" cy="256.99" r="3.65" fill="#5597d9" stroke="#0f6dc4" stroke-width="1.25"/>
<circle cx="617.95" cy="256.99" r="3.65" fill="#5597d9" stroke="#0f6dc4" stroke-width="1.25"/>
<circle cx="618.68" cy="256.99" r="3.65" fill="#5597d9" stroke="#0f6dc4" stroke-width="1.25"/>
<circle cx="619.40" cy="256.99" r="3.65" fill="#5597d9" stroke="#0f6dc4" stroke-width="1.25"/>
<circle cx="620.12" cy="256.99" r="3.65" fill="#5597d9" stroke="#0f6dc4" stroke-width="1.25"/>
<circle cx="620.84" cy="256.99" r="3.65" fill="#5597d9" stroke="#0f6dc4" stroke-width="1.25"/>
<circle cx="621.56" cy="256.99" r="3.65" fill="#5597d9" stroke="#0f6dc4" stroke-width="1.25"/>
<circle cx="622.29" cy="256.99" r="3.65" fill="#5597d9" stroke="#0f6dc4" stroke-width="1.25"/>
<circle cx="623.01" cy="256.99" r="3.65" fill="#5597d9" stroke="#0f6dc4" stroke-width="1.25"/>
<circle cx="623.73" cy="256.99" r="3.65" fill="#5597d9" stroke="#0f6dc4" stroke-width="1.25"/>
<circle cx="624.45" cy="256.99" r="3.65" fill="#5597d9" stroke="#0f6dc4" stroke-width="1.25"/>
<circle cx="625.17" cy="256.99" r="3.65" fill="#5597d9" stroke="#0f6dc4" stroke-width="1.25"/>
<circle cx="625.90" cy="256.99" r="3.65" fill="#5597d9" stroke="#0f6dc4" stroke-width="1.25"/>
<circle cx="626.62" cy="256.99" r="3.65" fill="#5597d9" stroke="#0f6dc4" stroke-width="1.25"/>
<circle cx="627.34" cy="277.50" r="3.65" fill="#5597d9" stroke="#0f6dc4" stroke-width="1.25"/>
<circle cx="628.06" cy="277.50" r="3.65" fill="#5597d9" stroke="#0f6dc4" stroke-width="1.25"/>
<circle cx="628.78" cy="277.50" r="3.65" fill="#5597d9" stroke="#0f6dc4" stroke-width="1.25"/>
<circle cx="629.51" cy="277.50" r="3.65" fill="#5597d9" stroke="#0f6dc4" stroke-width="1.25"/>
<circle cx="630.23" cy="277.50" r="3.65" fill="#5597d9" stroke="#0f6dc4" stroke-width="1.25"/>
<circle cx="630.95" cy="277.50" r="3.65" fill="#5597d9" stroke="#0f6dc4" stroke-width="1.25"/>
<circle cx="631.67" cy="277.50" r="3.65" fill="#5597d9" stroke="#0f6dc4" stroke-width="1.25"/>
<circle cx="470.90" cy="66.10" r="3.65" fill="#ff0000" stroke="#5e3d92" stroke-width="1.25"/>
<circle cx="483.30" cy="97.40" r="3.65" fill="#ff0000" stroke="#5e3d92" stroke-width="1.25"/>
<circle cx="502.90" cy="128.70" r="3.65" fill="#ff0000" stroke="#5e3d92" stroke-width="1.25"/>
<circle cx="510.10" cy="137.20" r="3.65" fill="#ff0000" stroke="#5e3d92" stroke-width="1.25"/>
<circle cx="525.10" cy="160.40" r="3.65" fill="#ff0000" stroke="#5e3d92" stroke-width="1.25"/>
<circle cx="544.30" cy="183.10" r="3.65" fill="#ff0000" stroke="#5e3d92" stroke-width="1.25"/>
<circle cx="567.20" cy="203.40" r="3.65" fill="#ff0000" stroke="#5e3d92" stroke-width="1.25"/>
<circle cx="582.30" cy="224.20" r="3.65" fill="#ff0000" stroke="#5e3d92" stroke-width="1.25"/>
<circle cx="601.70" cy="244.60" r="3.65" fill="#ff0000" stroke="#5e3d92" stroke-width="1.25"/>
<circle cx="621.30" cy="256.80" r="3.65" fill="#ff0000" stroke="#5e3d92" stroke-width="1.25"/>
<text class="l" x="476.0" y="67.9" font-size="10.4" fill="#1a1a1a" textLength="27.6" lengthAdjust="spacingAndGlyphs">KNG1</text>
<text class="l" x="491.6" y="97.4" font-size="10.4" fill="#1a1a1a" textLength="21.5" lengthAdjust="spacingAndGlyphs">HRG</text>
<text class="l" x="508.6" y="123.8" font-size="10.4" fill="#1a1a1a" textLength="26.6" lengthAdjust="spacingAndGlyphs">ATRN</text>
<text class="l" x="476.6" y="143.7" font-size="10.4" fill="#1a1a1a" textLength="24.3" lengthAdjust="spacingAndGlyphs">CD5L</text>
<text class="l" x="532.4" y="159.9" font-size="10.4" fill="#1a1a1a" textLength="18.7" lengthAdjust="spacingAndGlyphs">LPA</text>
<text class="l" x="498.6" y="189.9" font-size="10.4" fill="#1a1a1a" textLength="35.6" lengthAdjust="spacingAndGlyphs">VCAM1</text>
<text class="l" x="573.6" y="203.3" font-size="10.4" fill="#1a1a1a" textLength="32.0" lengthAdjust="spacingAndGlyphs">SPARC</text>
<text class="l" x="534.6" y="229.2" font-size="10.4" fill="#1a1a1a" textLength="33.6" lengthAdjust="spacingAndGlyphs">MASP2</text>
<text class="l" x="563.5" y="247.8" font-size="10.4" fill="#1a1a1a" textLength="23.6" lengthAdjust="spacingAndGlyphs">CCL4</text>
<text class="l" x="565.2" y="261.0" font-size="10.4" fill="#1a1a1a" textLength="37.2" lengthAdjust="spacingAndGlyphs">S100A8</text>
<text x="0" y="0" transform="translate(13.0,178.8) rotate(-90)" font-size="16" fill="#1a1a1a" textLength="108.6" lengthAdjust="spacingAndGlyphs">Spectral Count</text>
<text x="177.6" y="358.9" font-size="15.8" fill="#1a1a1a" textLength="387.2" lengthAdjust="spacingAndGlyphs">Cumulative Number of Quantitated Proteins (BPH_3)</text>
</svg></body></html>
